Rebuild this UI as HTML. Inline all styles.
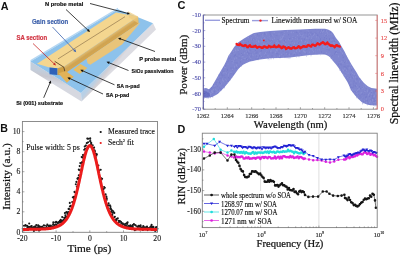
<!DOCTYPE html>
<html><head><meta charset="utf-8"><style>
html,body{margin:0;padding:0;background:#fff;}
svg{display:block;filter:blur(0.35px);}
</style></head><body>
<svg xmlns="http://www.w3.org/2000/svg" width="400" height="255" viewBox="0 0 400 255">
<rect width="400" height="255" fill="#fff"/>
<defs><linearGradient id="ff" gradientUnits="userSpaceOnUse" x1="50" y1="72" x2="48" y2="82"><stop offset="0" stop-color="#c2cedc"/><stop offset="0.5" stop-color="#c8c8d0"/><stop offset="1" stop-color="#d6d8e0"/></linearGradient><linearGradient id="rf" gradientUnits="userSpaceOnUse" x1="110" y1="62" x2="115" y2="66"><stop offset="0" stop-color="#b8d0e6"/><stop offset="0.6" stop-color="#d4d0d4"/><stop offset="1" stop-color="#dcdce2"/></linearGradient></defs>
<polygon points="30.5,61.5 81.0,93.0 81.5,101.5 30.5,70.0" fill="url(#ff)"/>
<polygon points="81.0,93.0 153.0,23.3 156.0,29.5 81.5,101.5" fill="url(#rf)"/>
<polygon points="30.5,59.9 118.0,7.7 118.0,9.3 30.5,61.5" fill="#b4d6f2"/>
<polygon points="30.5,61.5 118.0,9.3 153.0,23.3 81.0,93.0" fill="#8dc2eb"/>
<defs><linearGradient id="sg" gradientUnits="userSpaceOnUse" x1="100" y1="42.06" x2="103.53" y2="47.28"><stop offset="0" stop-color="#e2bd72"/><stop offset="0.5" stop-color="#cfa352"/><stop offset="1" stop-color="#d6a64e"/></linearGradient></defs>
<polygon points="64.0,66.4 138.0,16.4 138.5,23.6 64.5,73.7" fill="url(#sg)"/>
<polygon points="86.5,58.8 138.5,23.6 140.5,22.5 122.0,44.4 90.3,64.7 87.5,63.2" fill="#e9c479"/>
<polygon points="37.0,63.8 116.0,12.4 138.0,16.4 64.0,66.4 57.5,68.2 49.5,67.5" fill="#f4d68f"/>
<polygon points="128.0,11.2 138.0,16.4 138.5,23.6 129.0,17.5" fill="#ecc97c" opacity="0.7"/>
<polygon points="49.5,67.5 57.5,68.2 57.5,75.0 49.5,74.3" fill="#2f62b8"/>
<polygon points="57.5,68.2 64.0,66.4 64.5,75.5 57.5,75.0" fill="#cf9f45"/>
<line x1="58" y1="58.9" x2="125" y2="16.7" stroke="#8a7048" stroke-width="0.65"/>
<polyline points="54.7,61.3 63.8,67.2 65.0,72.0" stroke="#4a3418" stroke-width="0.8" fill="none"/>
<polygon points="58.5,73.3 65.6,70.9 73.8,76.8 66.8,82.7" fill="#e2b257"/>
<polygon points="73.2,69.8 80.3,63.9 87.4,68.0 79.7,73.9" fill="#e8bd62"/>
<line x1="90" y1="3.5" x2="128.5" y2="13.6" stroke="#111" stroke-width="0.8"/>
<polygon points="130.0,14.0 126.9,14.6 127.6,11.9" fill="#111"/>
<line x1="66" y1="9.5" x2="88.9" y2="31.0" stroke="#111" stroke-width="0.8"/>
<polygon points="90.0,32.0 86.9,31.0 88.8,29.0" fill="#111"/>
<line x1="52.5" y1="27" x2="75.2" y2="51.1" stroke="#3c64b0" stroke-width="0.8"/>
<polygon points="76.2,52.2 73.2,51.1 75.2,49.1" fill="#3c64b0"/>
<line x1="33" y1="43.5" x2="54.9" y2="64.5" stroke="#c82828" stroke-width="0.8"/>
<polygon points="56.0,65.5 53.0,64.5 54.9,62.5" fill="#c82828"/>
<line x1="155" y1="51.5" x2="119.4" y2="38.5" stroke="#111" stroke-width="0.8"/>
<polygon points="118.0,38.0 121.2,37.7 120.2,40.3" fill="#111"/>
<line x1="128.5" y1="70.5" x2="107.9" y2="62.3" stroke="#111" stroke-width="0.8"/>
<polygon points="106.5,61.7 109.7,61.5 108.7,64.1" fill="#111"/>
<line x1="114.5" y1="84.8" x2="81.7" y2="70.4" stroke="#111" stroke-width="0.8"/>
<polygon points="80.3,69.8 83.5,69.7 82.4,72.2" fill="#111"/>
<line x1="103" y1="94" x2="68.8" y2="78.0" stroke="#111" stroke-width="0.8"/>
<polygon points="67.4,77.4 70.6,77.4 69.4,79.9" fill="#111"/>
<line x1="43.7" y1="97.8" x2="50.4" y2="82.0" stroke="#111" stroke-width="0.8"/>
<polygon points="51.0,80.6 51.2,83.8 48.6,82.7" fill="#111"/>
<text x="0.8" y="9.5" font-family="Liberation Sans" font-weight="bold" font-size="10.8" fill="#111">A</text>
<text x="45.1" y="5.5" font-family="Liberation Sans" font-weight="bold" font-size="5.9" fill="#111" stroke="#111" stroke-width="0.18" textLength="38.2" lengthAdjust="spacingAndGlyphs">N probe metal</text>
<text x="31.9" y="23.8" font-family="Liberation Sans" font-weight="bold" font-size="6.8" fill="#3b5faa" stroke="#3b5faa" stroke-width="0.18" textLength="36.3" lengthAdjust="spacingAndGlyphs">Gain section</text>
<text x="16.4" y="39.9" font-family="Liberation Sans" font-weight="bold" font-size="6.7" fill="#d23644" stroke="#d23644" stroke-width="0.18" textLength="30.8" lengthAdjust="spacingAndGlyphs">SA section</text>
<text x="139.2" y="60.5" font-family="Liberation Sans" font-weight="bold" font-size="5.9" fill="#111" stroke="#111" stroke-width="0.18" textLength="37.1" lengthAdjust="spacingAndGlyphs">P probe metal</text>
<text x="131.6" y="72.6" font-family="Liberation Sans" font-weight="bold" font-size="5.8" fill="#111" stroke="#111" stroke-width="0.18" textLength="42" lengthAdjust="spacingAndGlyphs">SiO<tspan font-size="4.3" dy="0.6">2</tspan><tspan dy="-0.6"> passivation</tspan></text>
<text x="116.8" y="87.6" font-family="Liberation Sans" font-weight="bold" font-size="5.9" fill="#111" stroke="#111" stroke-width="0.18" textLength="22.8" lengthAdjust="spacingAndGlyphs">SA n-pad</text>
<text x="106" y="97.4" font-family="Liberation Sans" font-weight="bold" font-size="5.9" fill="#111" stroke="#111" stroke-width="0.18" textLength="23.4" lengthAdjust="spacingAndGlyphs">SA p-pad</text>
<text x="16.3" y="105.2" font-family="Liberation Sans" font-weight="bold" font-size="5.9" fill="#111" stroke="#111" stroke-width="0.18" textLength="46.9" lengthAdjust="spacingAndGlyphs">Si (001) substrate</text>
<polygon points="203.3,88.5 206.0,88.0 209.0,89.2 212.0,86.3 215.0,81.0 218.0,75.8 221.0,70.5 224.0,65.5 226.0,61.5 228.3,56.0 231.0,52.0 234.0,47.2 237.0,43.5 238.0,42.5 241.0,40.5 244.0,38.6 247.0,36.8 250.0,35.0 254.0,33.1 260.0,32.0 270.0,31.1 285.0,30.1 300.0,29.5 315.0,28.8 325.0,28.8 328.0,29.6 331.0,31.0 333.0,33.0 334.5,35.5 336.0,38.0 339.0,41.8 341.5,46.2 344.7,51.8 346.6,55.7 349.1,60.3 351.7,64.7 354.2,68.8 356.6,72.5 359.1,76.9 362.3,81.0 364.0,83.0 367.8,86.2 371.5,88.0 377.2,88.8 377.2,105.6 370.5,105.3 366.2,104.3 361.8,102.2 358.0,98.4 354.9,95.3 351.1,90.3 348.6,84.6 347.4,82.0 344.9,78.0 341.8,72.9 338.6,67.9 336.0,64.5 333.0,61.0 330.0,57.3 328.0,55.8 325.0,54.6 320.0,54.5 310.0,55.0 300.0,56.2 290.0,57.5 280.0,58.0 270.0,58.2 260.0,59.6 256.0,60.3 253.0,61.0 250.0,61.5 246.0,63.2 243.0,64.8 240.0,67.3 238.0,69.5 235.0,73.7 233.0,76.5 230.0,80.5 227.0,84.2 224.0,87.7 221.0,90.8 218.0,93.8 216.0,95.0 212.0,97.0 209.0,97.6 206.0,97.8 203.3,97.8" fill="#7f86cf"/>
<path d="M204.0 90.6v1.3M204.0 94.3v0.6M204.5 90.7v0.9M205.0 96.2v1.2M205.0 94.3v1.8M205.5 94.6v0.6M206.0 91.0v0.5M206.0 95.0v1.8M206.5 92.0v1.7M207.0 96.6v0.6M207.0 97.4v1.2M207.5 93.2v1.1M208.0 94.0v1.9M208.0 96.4v2.0M208.5 96.4v1.9M209.0 95.2v0.8M209.0 91.6v0.6M209.5 89.5v1.7M210.0 90.9v1.7M210.0 93.9v0.6M210.5 96.2v2.0M211.0 90.3v0.6M211.0 89.2v1.1M211.5 87.2v1.8M212.0 95.9v1.1M212.0 93.2v1.4M212.5 96.1v1.3M213.0 87.4v1.0M213.0 91.1v0.5M213.5 83.9v1.4M214.0 91.1v1.2M214.0 92.1v1.6M214.5 91.3v1.9M215.0 89.6v1.0M215.0 86.4v1.4M215.5 91.8v0.5M216.0 84.1v0.8M216.0 82.2v1.2M216.5 83.6v1.0M217.0 92.0v0.8M217.0 92.5v1.2M217.5 85.9v0.8M218.0 79.1v0.9M218.0 90.3v1.0M218.5 89.5v0.9M219.0 81.9v1.1M219.0 74.1v1.9M219.5 81.5v1.9M220.0 86.8v1.8M220.0 77.9v1.0M220.5 83.1v0.9M221.0 88.8v1.5M221.0 88.8v1.4M221.5 73.2v0.9M222.0 77.5v1.9M222.0 74.1v1.8M222.5 75.5v0.8M223.0 70.9v1.7M223.0 84.9v0.5M223.5 67.4v0.9M224.0 74.9v1.2M224.0 66.7v0.7M224.5 86.5v1.8M225.0 70.8v1.0M225.0 77.0v1.0M225.5 65.4v1.3M226.0 63.4v0.8M226.0 80.2v1.1M226.5 70.9v1.1M227.0 69.7v1.5M227.0 72.6v1.5M227.5 68.8v1.8M228.0 80.3v1.7M228.0 59.9v1.7M228.5 76.8v1.5M229.0 57.7v1.4M229.0 75.7v0.6M229.5 77.9v0.8M230.0 56.8v1.8M230.0 79.2v1.4M230.5 73.5v1.3M231.0 72.3v1.9M231.0 67.3v1.7M231.5 58.0v1.4M232.0 60.5v1.1M232.0 52.7v1.3M232.5 70.2v0.7M233.0 67.5v1.3M233.0 73.7v0.7M233.5 73.5v1.3M234.0 52.4v0.9M234.0 56.0v0.8M234.5 54.8v1.6M235.0 62.2v0.9M235.0 59.3v1.1M235.5 54.3v1.7M236.0 58.0v1.4M236.0 67.4v1.3M236.5 67.7v1.1M237.0 56.3v0.8M237.0 62.0v1.9M237.5 48.2v0.9M238.0 65.7v1.8M238.0 51.0v1.1M238.5 44.6v1.8M239.0 57.2v1.5M239.0 53.4v1.2M239.5 66.7v1.1M240.0 48.3v1.5M240.0 64.9v0.6M240.5 61.0v1.6M241.0 57.5v1.7M241.0 65.5v1.5M241.5 53.0v1.0M242.0 54.5v0.8M242.0 44.5v1.8M242.5 63.5v0.7M243.0 54.5v1.3M243.0 47.2v0.8M243.5 58.2v1.3M244.0 45.4v1.1M244.0 51.6v0.9M244.5 46.9v1.1M245.0 47.1v1.8M245.0 40.6v0.7M245.5 42.5v0.8M246.0 58.4v1.6M246.0 47.7v0.8M246.5 42.3v0.9M247.0 57.7v1.8M247.0 51.2v1.4M247.5 54.4v0.9M248.0 51.9v1.6M248.0 53.5v1.2M248.5 41.0v1.3M249.0 52.6v1.2M249.0 59.1v0.7M249.5 36.6v1.0M250.0 49.3v1.9M250.0 53.4v0.7M250.5 59.5v1.6M251.0 56.2v1.9M251.0 54.8v1.2M251.5 36.4v0.8M252.0 53.0v1.3M252.0 42.3v1.2M252.5 38.7v1.8M253.0 43.7v1.3M253.0 33.6v0.8M253.5 46.0v0.8M254.0 44.3v0.8M254.0 37.8v1.2M254.5 45.4v1.1M255.0 44.1v1.1M255.0 39.0v0.6M255.5 50.0v1.0M256.0 52.8v0.9M256.0 58.5v1.0M256.5 55.1v1.4M257.0 51.4v2.0M257.0 33.4v0.6M257.5 33.9v1.5M258.0 59.2v1.2M258.0 58.3v0.6M258.5 58.4v0.6M259.0 35.3v1.1M259.0 57.8v0.8M259.5 55.2v1.3M260.0 43.4v0.8M260.0 39.4v0.8M260.5 51.6v1.1M261.0 51.5v0.5M261.0 50.6v0.6M261.5 49.5v1.8M262.0 56.5v1.6M262.0 33.8v1.1M262.5 47.4v0.7M263.0 38.3v0.6M263.0 47.8v0.5M263.5 37.7v1.3M264.0 48.2v1.7M264.0 36.5v0.6M264.5 32.3v1.9M265.0 33.9v1.2M265.0 48.4v1.5M265.5 41.0v1.4M266.0 54.3v1.4M266.0 46.2v1.2M266.5 40.9v1.2M267.0 51.4v1.1M267.0 37.2v1.0M267.5 43.1v0.6M268.0 56.6v1.6M268.0 47.9v1.9M268.5 57.0v1.9M269.0 52.2v1.1M269.0 39.1v1.9M269.5 50.7v0.9M270.0 32.2v1.6M270.0 40.4v1.6M270.5 33.9v0.9M271.0 35.2v1.6M271.0 57.6v1.8M271.5 39.5v1.2M272.0 40.7v1.8M272.0 55.1v1.7M272.5 52.9v0.5M273.0 45.5v0.7M273.0 51.9v1.2M273.5 57.6v0.6M274.0 42.6v1.0M274.0 33.4v1.0M274.5 42.2v0.9M275.0 47.9v1.5M275.0 37.5v0.7M275.5 44.7v1.7M276.0 35.3v0.5M276.0 55.5v1.2M276.5 53.0v1.4M277.0 35.3v0.8M277.0 45.6v1.1M277.5 52.6v1.2M278.0 39.2v1.3M278.0 53.3v1.9M278.5 46.3v1.3M279.0 50.0v1.9M279.0 40.7v1.3M279.5 48.2v0.8M280.0 41.0v1.7M280.0 56.6v1.9M280.5 38.2v0.7M281.0 32.6v0.8M281.0 44.9v1.6M281.5 52.9v0.5M282.0 32.2v0.9M282.0 45.4v0.6M282.5 34.2v1.9M283.0 48.9v1.5M283.0 51.2v0.8M283.5 54.4v0.6M284.0 40.7v0.7M284.0 37.9v0.7M284.5 39.9v1.9M285.0 56.1v2.0M285.0 39.9v1.9M285.5 38.7v0.5M286.0 51.7v1.4M286.0 42.3v1.3M286.5 46.5v1.9M287.0 56.6v1.8M287.0 35.6v0.6M287.5 54.1v0.7M288.0 51.9v2.0M288.0 51.1v0.6M288.5 34.0v1.4M289.0 40.3v1.0M289.0 57.0v1.9M289.5 37.8v2.0M290.0 43.7v1.6M290.0 37.7v2.0M290.5 44.5v1.8M291.0 42.0v1.4M291.0 53.2v1.7M291.5 40.4v2.0M292.0 44.9v1.8M292.0 49.3v1.0M292.5 40.7v1.1M293.0 45.8v0.7M293.0 46.6v0.7M293.5 37.5v0.5M294.0 44.3v1.6M294.0 54.6v1.2M294.5 53.7v1.1M295.0 37.5v0.8M295.0 32.0v0.5M295.5 52.2v0.8M296.0 43.5v1.1M296.0 41.5v0.6M296.5 31.9v1.2M297.0 31.4v0.5M297.0 53.7v1.7M297.5 45.3v1.8M298.0 32.0v1.5M298.0 43.7v1.4M298.5 42.1v1.8M299.0 55.8v1.5M299.0 37.5v1.8M299.5 46.1v1.0M300.0 52.4v1.6M300.0 41.1v1.0M300.5 35.2v1.7M301.0 53.8v1.1M301.0 30.5v1.2M301.5 51.6v0.6M302.0 34.1v0.9M302.0 38.4v0.7M302.5 44.4v0.9M303.0 47.1v1.4M303.0 39.8v1.3M303.5 41.0v0.6M304.0 42.3v1.4M304.0 47.4v0.8M304.5 38.4v2.0M305.0 48.1v1.0M305.0 32.1v1.3M305.5 43.4v1.8M306.0 44.5v1.7M306.0 49.2v1.3M306.5 52.4v1.3M307.0 48.8v0.9M307.0 48.4v1.0M307.5 35.7v1.5M308.0 32.0v1.3M308.0 33.6v1.1M308.5 44.1v0.7M309.0 34.3v1.3M309.0 43.1v1.9M309.5 39.4v0.6M310.0 53.5v0.7M310.0 40.3v0.9M310.5 43.8v1.3M311.0 54.6v1.7M311.0 31.5v1.6M311.5 40.8v2.0M312.0 33.2v1.5M312.0 38.6v1.8M312.5 46.8v1.1M313.0 43.0v1.4M313.0 33.3v1.5M313.5 42.0v1.9M314.0 38.5v0.6M314.0 52.8v0.8M314.5 48.0v1.2M315.0 42.9v1.5M315.0 32.3v1.4M315.5 29.0v0.6M316.0 40.6v2.0M316.0 47.0v0.5M316.5 33.2v0.5M317.0 53.9v0.7M317.0 49.6v1.2M317.5 34.6v1.2M318.0 34.7v1.1M318.0 43.6v1.3M318.5 29.4v0.5M319.0 43.5v0.9M319.0 45.9v1.6M319.5 36.7v0.6M320.0 31.4v1.9M320.0 40.1v0.7M320.5 38.2v2.0M321.0 41.1v0.9M321.0 29.1v1.2M321.5 51.2v1.9M322.0 36.6v1.2M322.0 32.2v1.4M322.5 29.9v1.9M323.0 48.0v1.3M323.0 45.0v0.6M323.5 53.6v0.5M324.0 52.7v1.1M324.0 38.9v1.2M324.5 36.7v1.6M325.0 35.4v1.0M325.0 53.5v1.2M325.5 30.4v0.9M326.0 35.3v0.8M326.0 42.1v0.9M326.5 38.0v1.1M327.0 48.9v1.0M327.0 35.1v0.8M327.5 46.2v1.6M328.0 42.1v1.1M328.0 34.8v1.1M328.5 53.9v0.8M329.0 48.9v2.0M329.0 53.9v0.7M329.5 38.1v1.8M330.0 34.4v0.8M330.0 39.0v1.2M330.5 31.3v1.9M331.0 57.9v0.9M331.0 37.7v0.8M331.5 56.4v1.0M332.0 47.1v1.3M332.0 40.3v1.8M332.5 55.4v0.6M333.0 37.3v2.0M333.0 48.6v0.7M333.5 58.9v0.9M334.0 40.2v1.9M334.0 37.6v1.8M334.5 53.3v1.4M335.0 51.9v0.5M335.0 40.9v1.0M335.5 51.7v1.1M336.0 50.9v1.7M336.0 50.8v0.7M336.5 51.3v1.1M337.0 49.2v1.0M337.0 53.7v1.2M337.5 52.4v1.6M338.0 43.6v1.8M338.0 47.5v0.6M338.5 63.7v1.8M339.0 51.9v0.7M339.0 61.7v1.7M339.5 66.0v1.3M340.0 46.0v0.6M340.0 61.1v0.5M340.5 45.4v1.3M341.0 63.9v1.6M341.0 63.7v0.5M341.5 71.6v0.8M342.0 69.2v1.2M342.0 50.6v1.6M342.5 55.3v0.9M343.0 60.2v1.1M343.0 57.1v1.0M343.5 57.4v0.6M344.0 66.0v1.1M344.0 56.2v0.7M344.5 60.9v1.9M345.0 69.4v1.4M345.0 65.9v1.2M345.5 73.5v0.9M346.0 66.7v1.2M346.0 61.1v0.7M346.5 55.5v0.8M347.0 67.8v1.3M347.0 76.7v1.5M347.5 69.5v0.6M348.0 65.6v1.4M348.0 79.8v1.3M348.5 73.1v1.0M349.0 60.3v0.6M349.0 81.7v1.4M349.5 77.3v0.6M350.0 87.7v0.7M350.0 84.2v1.7M350.5 73.9v1.6M351.0 85.9v1.9M351.0 89.4v0.9M351.5 69.1v1.7M352.0 75.6v1.8M352.0 87.4v0.6M352.5 77.2v1.5M353.0 90.9v1.5M353.0 86.3v1.7M353.5 83.5v0.8M354.0 85.1v1.2M354.0 80.6v1.9M354.5 91.5v1.8M355.0 91.2v2.0M355.0 75.3v1.5M355.5 85.2v1.7M356.0 94.0v1.5M356.0 82.4v1.5M356.5 96.4v1.8M357.0 77.9v1.6M357.0 78.4v1.6M357.5 88.1v1.2M358.0 98.0v0.7M358.0 90.4v1.4M358.5 94.1v1.4M359.0 90.8v0.7M359.0 97.8v1.7M359.5 86.1v1.3M360.0 95.1v1.6M360.0 78.3v1.3M360.5 88.1v1.8M361.0 97.3v1.0M361.0 81.0v2.0M361.5 96.9v0.7M362.0 93.4v1.0M362.0 93.2v1.4M362.5 102.4v2.0M363.0 86.5v1.7M363.0 97.9v0.8M363.5 100.9v1.7M364.0 91.4v0.8M364.0 94.4v1.0M364.5 92.3v0.6M365.0 93.8v0.7M365.0 89.4v1.8M365.5 96.5v1.7M366.0 88.0v1.4M366.0 100.0v1.8M366.5 95.8v1.8M367.0 93.6v0.5M367.0 94.3v0.7M367.5 99.8v1.8M368.0 103.9v0.9M368.0 102.7v1.7M368.5 88.6v0.9M369.0 88.4v1.9M369.0 91.1v1.7M369.5 95.5v1.5M370.0 89.2v1.8M370.0 104.1v1.0M370.5 88.0v0.9M371.0 98.8v1.8M371.0 94.5v0.9M371.5 91.5v1.6M372.0 97.5v1.4M372.0 100.0v0.8M372.5 94.9v1.9M373.0 97.3v1.6M373.0 97.1v1.4M373.5 103.9v1.7M374.0 100.4v1.4M374.0 91.3v2.0M374.5 98.5v1.1M375.0 105.2v1.3M375.0 100.6v1.4M375.5 89.9v2.0M376.0 96.5v0.6M376.0 100.7v1.8M376.5 95.1v1.2" stroke="#6a70c4" stroke-width="0.6" opacity="0.6"/>
<path d="M204.0 91.9v1.4M204.5 88.4v1.8M204.5 97.8v1.2M205.0 94.3v0.7M205.5 93.2v1.6M205.5 95.5v1.4M206.0 96.5v1.2M206.5 95.0v1.9M206.5 92.5v1.9M207.0 89.7v0.8M207.5 94.3v1.0M207.5 91.8v1.4M208.0 94.8v1.9M208.5 94.8v0.7M208.5 96.8v1.4M209.0 96.2v1.4M209.5 96.2v2.0M209.5 92.3v0.7M210.0 96.2v0.6M210.5 94.6v1.0M210.5 92.6v2.0M211.0 93.2v0.5M211.5 93.1v0.7M211.5 90.0v1.9M212.0 91.2v1.3M212.5 91.8v1.4M212.5 90.3v1.6M213.0 96.2v1.3M213.5 88.9v1.4M213.5 91.6v0.6M214.0 91.8v1.0M214.5 82.2v0.6M214.5 85.4v1.2M215.0 86.3v1.0M215.5 84.7v1.1M215.5 88.7v1.6M216.0 91.9v0.9M216.5 89.8v0.7M216.5 92.0v1.2M217.0 83.2v1.5M217.5 80.6v0.7M217.5 90.7v1.8M218.0 90.3v1.5M218.5 77.3v0.9M218.5 81.3v1.1M219.0 91.3v0.7M219.5 90.0v2.0M219.5 90.9v0.8M220.0 85.2v1.3M220.5 75.9v0.6M220.5 87.5v0.6M221.0 89.3v1.8M221.5 69.9v1.6M221.5 83.3v1.3M222.0 81.6v1.0M222.5 78.1v1.7M222.5 79.4v1.7M223.0 87.0v1.7M223.5 80.1v1.8M223.5 72.2v1.3M224.0 82.7v0.5M224.5 67.3v0.6M224.5 66.4v1.3M225.0 71.6v1.5M225.5 67.0v1.0M225.5 79.3v1.1M226.0 70.4v1.4M226.5 79.9v1.4M226.5 72.4v1.6M227.0 70.7v0.9M227.5 59.8v1.1M227.5 82.0v1.1M228.0 63.6v1.2M228.5 73.4v1.8M228.5 75.3v1.3M229.0 55.1v0.7M229.5 56.7v0.6M229.5 54.9v1.8M230.0 71.7v1.8M230.5 74.4v0.6M230.5 72.1v0.7M231.0 53.7v1.0M231.5 57.8v0.8M231.5 71.8v1.1M232.0 60.0v1.1M232.5 76.4v1.1M232.5 68.6v1.6M233.0 62.2v1.5M233.5 50.7v1.6M233.5 60.3v1.6M234.0 52.8v1.4M234.5 65.8v1.9M234.5 58.1v1.8M235.0 52.0v0.5M235.5 50.1v1.0M235.5 49.3v2.0M236.0 57.6v1.8M236.5 57.3v1.6M236.5 64.3v1.9M237.0 49.9v1.6M237.5 66.2v0.9M237.5 48.1v1.6M238.0 49.4v1.8M238.5 61.7v0.6M238.5 50.0v1.0M239.0 42.0v1.0M239.5 47.0v1.4M239.5 55.8v0.7M240.0 44.1v1.8M240.5 65.4v1.1M240.5 48.5v1.5M241.0 47.4v1.6M241.5 54.1v0.7M241.5 58.8v1.5M242.0 56.5v1.4M242.5 56.4v0.7M242.5 48.1v1.6M243.0 55.8v1.2M243.5 40.7v1.6M243.5 57.9v1.0M244.0 61.0v0.6M244.5 58.1v1.0M244.5 52.2v1.7M245.0 40.9v0.9M245.5 57.8v1.6M245.5 48.4v1.6M246.0 52.7v0.7M246.5 50.8v1.4M246.5 57.3v0.5M247.0 61.5v1.1M247.5 53.0v2.0M247.5 58.9v1.2M248.0 36.3v1.7M248.5 49.6v1.2M248.5 36.9v1.3M249.0 50.5v1.9M249.5 56.2v1.4M249.5 41.5v0.6M250.0 43.6v1.8M250.5 57.6v1.4M250.5 54.5v1.0M251.0 57.6v1.2M251.5 37.2v0.6M251.5 38.6v1.2M252.0 45.5v1.5M252.5 54.5v1.1M252.5 53.4v1.1M253.0 49.9v0.8M253.5 54.9v0.7M253.5 39.1v0.8M254.0 33.9v0.7M254.5 34.7v0.5M254.5 52.5v0.6M255.0 33.7v1.9M255.5 45.9v0.7M255.5 36.2v0.6M256.0 54.5v1.2M256.5 39.5v0.9M256.5 42.1v0.6M257.0 48.9v0.5M257.5 37.2v0.6M257.5 57.3v0.8M258.0 54.5v1.9M258.5 40.7v1.4M258.5 40.4v1.8M259.0 41.4v1.5M259.5 52.5v1.6M259.5 57.6v1.0M260.0 53.5v1.2M260.5 51.8v1.4M260.5 45.4v0.7M261.0 44.8v1.6M261.5 38.4v1.8M261.5 55.9v1.2M262.0 41.0v1.1M262.5 58.0v0.7M262.5 34.0v1.5M263.0 35.9v1.5M263.5 38.0v2.0M263.5 43.2v1.7M264.0 46.3v0.8M264.5 54.2v0.7M264.5 37.0v1.8M265.0 37.6v1.7M265.5 52.3v1.8M265.5 43.7v0.7M266.0 53.7v0.8M266.5 51.3v0.6M266.5 33.4v1.3M267.0 49.0v1.4M267.5 58.4v1.0M267.5 37.3v0.7M268.0 55.1v2.0M268.5 45.8v1.1M268.5 57.0v1.2M269.0 58.3v1.9M269.5 36.2v0.6M269.5 45.2v1.5M270.0 38.6v1.1M270.5 51.3v0.9M270.5 42.2v0.6M271.0 50.0v2.0M271.5 41.1v0.7M271.5 45.3v1.3M272.0 38.7v1.2M272.5 39.0v0.9M272.5 34.5v1.3M273.0 32.3v0.8M273.5 57.6v1.7M273.5 35.9v0.5M274.0 32.2v1.3M274.5 37.6v1.7M274.5 32.0v1.1M275.0 55.7v1.7M275.5 51.5v1.7M275.5 45.8v0.9M276.0 48.3v1.8M276.5 48.9v1.9M276.5 42.0v1.3M277.0 49.4v2.0M277.5 40.3v1.2M277.5 56.9v0.7M278.0 41.9v1.8M278.5 47.4v0.5M278.5 43.9v0.9M279.0 33.3v1.5M279.5 55.1v1.9M279.5 55.8v0.8M280.0 39.1v0.9M280.5 39.2v1.1M280.5 37.3v2.0M281.0 35.9v0.6M281.5 53.5v1.4M281.5 38.1v1.9M282.0 43.6v0.9M282.5 36.8v1.9M282.5 35.2v2.0M283.0 34.2v0.6M283.5 35.4v1.7M283.5 56.7v1.3M284.0 40.9v2.0M284.5 34.1v0.7M284.5 32.3v0.8M285.0 57.2v0.9M285.5 43.5v1.6M285.5 39.6v1.6M286.0 42.9v1.3M286.5 53.1v0.8M286.5 53.5v0.8M287.0 34.7v0.9M287.5 57.0v1.1M287.5 30.4v1.8M288.0 48.9v1.3M288.5 44.9v1.2M288.5 38.9v1.3M289.0 39.8v1.4M289.5 53.7v1.8M289.5 37.4v0.7M290.0 39.3v1.5M290.5 42.4v1.2M290.5 57.1v1.3M291.0 31.8v1.1M291.5 31.5v1.8M291.5 39.9v0.8M292.0 41.6v1.8M292.5 38.0v1.3M292.5 47.6v1.8M293.0 35.8v1.1M293.5 32.0v1.0M293.5 44.5v1.9M294.0 52.3v1.8M294.5 48.3v0.7M294.5 42.6v1.8M295.0 52.1v1.4M295.5 39.2v0.5M295.5 37.1v1.1M296.0 46.7v1.5M296.5 56.1v1.5M296.5 50.0v2.0M297.0 42.6v1.1M297.5 38.5v1.1M297.5 35.0v1.1M298.0 30.3v1.9M298.5 31.8v0.8M298.5 44.0v0.9M299.0 43.7v0.8M299.5 33.1v1.3M299.5 50.1v1.9M300.0 34.9v0.6M300.5 34.6v1.8M300.5 54.5v0.7M301.0 35.1v0.8M301.5 39.6v1.8M301.5 40.1v1.1M302.0 36.4v1.5M302.5 35.2v1.2M302.5 47.9v0.8M303.0 34.0v1.6M303.5 45.1v1.4M303.5 50.1v1.8M304.0 36.4v1.8M304.5 50.8v2.0M304.5 42.0v0.8M305.0 48.6v1.4M305.5 51.6v1.2M305.5 41.0v1.2M306.0 34.6v0.6M306.5 37.1v1.8M306.5 55.1v1.8M307.0 29.5v1.5M307.5 41.7v1.4M307.5 43.9v1.1M308.0 37.5v1.6M308.5 34.2v1.1M308.5 30.5v1.2M309.0 33.4v0.7M309.5 51.6v1.3M309.5 36.2v1.0M310.0 53.6v1.2M310.5 54.0v0.8M310.5 34.2v0.8M311.0 48.0v1.9M311.5 48.4v0.8M311.5 37.4v1.6M312.0 35.9v1.3M312.5 48.3v1.3M312.5 49.8v0.9M313.0 39.0v0.6M313.5 34.4v1.6M313.5 50.9v1.6M314.0 43.3v1.6M314.5 32.9v2.0M314.5 48.0v0.7M315.0 44.5v0.7M315.5 51.7v0.7M315.5 49.2v1.1M316.0 44.6v0.9M316.5 36.1v1.5M316.5 42.2v1.0M317.0 49.5v1.1M317.5 46.0v1.0M317.5 49.5v1.0M318.0 31.3v1.0M318.5 44.2v0.9M318.5 37.5v0.8M319.0 48.4v1.4M319.5 42.2v1.1M319.5 49.2v1.3M320.0 43.8v1.4M320.5 54.5v0.8M320.5 31.9v1.2M321.0 52.6v1.1M321.5 28.9v1.6M321.5 30.0v1.5M322.0 36.5v1.0M322.5 31.1v1.9M322.5 33.7v0.6M323.0 48.6v1.3M323.5 46.2v1.3M323.5 30.6v1.5M324.0 47.1v1.3M324.5 44.3v0.5M324.5 35.5v1.2M325.0 45.6v1.6M325.5 34.2v1.0M325.5 44.1v1.4M326.0 31.6v0.8M326.5 52.2v1.3M326.5 30.2v1.6M327.0 48.2v0.9M327.5 34.6v1.4M327.5 32.2v1.6M328.0 42.8v1.1M328.5 46.9v1.6M328.5 53.3v1.7M329.0 33.7v1.7M329.5 46.1v1.9M329.5 54.4v1.2M330.0 52.7v1.1M330.5 56.0v0.9M330.5 39.4v1.1M331.0 33.4v1.8M331.5 57.4v0.8M331.5 39.9v0.8M332.0 43.1v1.3M332.5 58.5v1.6M332.5 39.5v0.8M333.0 58.3v1.9M333.5 45.7v0.6M333.5 41.8v1.9M334.0 43.2v1.5M334.5 46.4v1.0M334.5 42.3v0.7M335.0 59.9v1.0M335.5 40.2v1.0M335.5 46.1v0.9M336.0 49.6v1.7M336.5 43.1v1.8M336.5 52.3v1.8M337.0 49.0v0.5M337.5 53.1v1.2M337.5 44.8v2.0M338.0 45.2v1.7M338.5 55.6v1.8M338.5 67.2v0.6M339.0 62.0v1.2M339.5 69.3v1.5M339.5 44.8v1.8M340.0 65.6v0.9M340.5 50.0v1.6M340.5 69.2v0.8M341.0 61.6v1.6M341.5 51.2v1.3M341.5 61.6v0.7M342.0 60.7v1.5M342.5 68.8v1.8M342.5 52.3v1.8M343.0 62.4v1.5M343.5 69.6v1.7M343.5 73.8v1.6M344.0 75.5v1.1M344.5 60.5v1.4M344.5 68.3v1.2M345.0 68.3v1.2M345.5 74.7v0.8M345.5 75.1v0.6M346.0 72.5v0.8M346.5 69.6v1.4M346.5 60.5v1.9M347.0 63.7v1.5M347.5 57.4v1.2M347.5 77.0v1.0M348.0 72.9v1.2M348.5 67.8v0.6M348.5 72.7v1.0M349.0 64.1v0.6M349.5 67.1v1.6M349.5 80.3v0.8M350.0 69.2v0.9M350.5 77.9v0.7M350.5 64.2v1.9M351.0 82.1v1.4M351.5 72.4v0.7M351.5 66.9v1.6M352.0 85.2v1.5M352.5 72.9v1.1M352.5 89.0v1.6M353.0 76.1v1.3M353.5 77.2v1.0M353.5 90.4v0.5M354.0 73.5v1.4M354.5 91.8v1.4M354.5 73.5v1.7M355.0 89.3v1.1M355.5 76.1v1.6M355.5 79.8v1.0M356.0 81.0v1.3M356.5 85.0v0.9M356.5 91.0v0.9M357.0 93.1v1.5M357.5 86.5v1.1M357.5 89.5v1.6M358.0 88.3v1.9M358.5 95.5v0.5M358.5 89.3v1.0M359.0 88.6v0.9M359.5 88.0v1.6M359.5 81.0v1.8M360.0 79.9v1.7M360.5 89.5v0.6M360.5 92.6v1.0M361.0 99.1v1.1M361.5 81.5v0.9M361.5 91.9v1.8M362.0 97.0v1.7M362.5 88.1v1.1M362.5 81.3v0.8M363.0 86.0v0.8M363.5 102.5v1.2M363.5 86.7v1.7M364.0 83.9v1.6M364.5 100.1v0.8M364.5 90.5v1.8M365.0 88.5v1.5M365.5 85.5v1.8M365.5 91.2v0.6M366.0 85.2v0.7M366.5 101.6v1.8M366.5 98.5v1.3M367.0 87.2v0.9M367.5 104.1v1.4M367.5 90.2v1.8M368.0 88.6v1.7M368.5 94.0v1.4M368.5 94.2v1.6M369.0 87.3v2.0M369.5 101.8v1.9M369.5 92.3v1.7M370.0 97.9v0.6M370.5 88.7v0.9M370.5 100.1v2.0M371.0 102.2v1.6M371.5 90.7v1.3M371.5 93.6v1.4M372.0 90.8v0.9M372.5 99.7v1.9M372.5 98.7v1.9M373.0 100.0v0.8M373.5 96.2v1.5M373.5 102.2v0.7M374.0 104.4v0.5M374.5 94.8v1.6M374.5 95.9v1.3M375.0 101.9v1.0M375.5 101.2v1.8M375.5 98.9v0.9M376.0 92.5v1.8M376.5 91.4v0.7M376.5 100.7v0.9" stroke="#98a0dc" stroke-width="0.6" opacity="0.6"/>
<polygon points="203.3,91.0 206.5,91.5 209.5,93.0 210.0,96.5 206.0,97.3 203.3,97.2" fill="#4a50b4" opacity="0.45"/>
<polyline points="236.5,43.9 237.4,44.8 238.3,44.9 239.2,45.1 240.1,43.9 241.0,44.8 241.9,45.4 242.8,45.8 243.7,46.0 244.6,45.4 245.5,45.4 246.4,45.8 247.3,47.2 248.2,47.1 249.1,45.9 250.0,45.3 250.9,46.6 251.8,46.9 252.7,46.9 253.6,46.5 254.5,46.4 255.4,45.9 256.3,46.9 257.2,47.8 258.1,47.2 259.0,46.8 259.9,46.8 260.8,47.2 261.7,47.9 262.6,47.9 263.5,46.8 264.4,46.5 265.3,46.7 266.2,47.4 267.1,47.6 268.0,47.3 268.9,45.9 269.8,46.3 270.7,47.2 271.6,46.9 272.5,46.9 273.4,46.9 274.3,45.6 275.2,46.8 276.1,47.3 277.0,46.9 277.9,46.8 278.8,45.6 279.7,46.5 280.6,46.9 281.5,48.2 282.4,47.9 283.3,46.6 284.2,46.9 285.1,47.4 286.0,48.9 286.9,48.4 287.8,47.8 288.7,47.3 289.6,48.3 290.5,48.4 291.4,48.6 292.3,48.1 293.2,47.4 294.1,47.2 295.0,48.3 295.9,48.2 296.8,47.9 297.7,47.4 298.6,46.4 299.5,46.8 300.4,48.1 301.3,47.4 302.2,47.2 303.1,46.4 304.0,46.1 304.9,46.7 305.8,46.7 306.7,46.8 307.6,45.5 308.5,45.2 309.4,45.6 310.3,46.2 311.2,46.5 312.1,44.8 313.0,44.7 313.9,45.1 314.8,45.7 315.7,45.5 316.6,44.5 317.5,43.4 318.4,43.9 319.3,44.5 320.2,44.3 321.1,43.3 322.0,42.9 322.9,42.2 323.8,42.9 324.7,44.1 325.6,44.3 326.5,43.4 327.4,42.6 328.3,44.1 329.2,44.5 330.1,45.4 331.0,45.9 331.9,45.4 332.8,45.9 333.7,46.0 334.6,47.2 335.5,46.3 336.4,45.1 337.3,45.5 338.2,46.2 339.1,46.2 340.0,46.8" stroke="#f02828" stroke-width="2.2" fill="none" opacity="0.9"/>
<circle cx="236.5" cy="43.9" r="1.05" fill="#f41c1c"/>
<circle cx="237.4" cy="44.8" r="1.05" fill="#f41c1c"/>
<circle cx="238.3" cy="44.9" r="1.05" fill="#f41c1c"/>
<circle cx="239.2" cy="45.1" r="1.05" fill="#f41c1c"/>
<circle cx="240.1" cy="43.9" r="1.05" fill="#f41c1c"/>
<circle cx="241.0" cy="44.8" r="1.05" fill="#f41c1c"/>
<circle cx="241.9" cy="45.4" r="1.05" fill="#f41c1c"/>
<circle cx="242.8" cy="45.8" r="1.05" fill="#f41c1c"/>
<circle cx="243.7" cy="46.0" r="1.05" fill="#f41c1c"/>
<circle cx="244.6" cy="45.4" r="1.05" fill="#f41c1c"/>
<circle cx="245.5" cy="45.4" r="1.05" fill="#f41c1c"/>
<circle cx="246.4" cy="45.8" r="1.05" fill="#f41c1c"/>
<circle cx="247.3" cy="47.2" r="1.05" fill="#f41c1c"/>
<circle cx="248.2" cy="47.1" r="1.05" fill="#f41c1c"/>
<circle cx="249.1" cy="45.9" r="1.05" fill="#f41c1c"/>
<circle cx="250.0" cy="45.3" r="1.05" fill="#f41c1c"/>
<circle cx="250.9" cy="46.6" r="1.05" fill="#f41c1c"/>
<circle cx="251.8" cy="46.9" r="1.05" fill="#f41c1c"/>
<circle cx="252.7" cy="46.9" r="1.05" fill="#f41c1c"/>
<circle cx="253.6" cy="46.5" r="1.05" fill="#f41c1c"/>
<circle cx="254.5" cy="46.4" r="1.05" fill="#f41c1c"/>
<circle cx="255.4" cy="45.9" r="1.05" fill="#f41c1c"/>
<circle cx="256.3" cy="46.9" r="1.05" fill="#f41c1c"/>
<circle cx="257.2" cy="47.8" r="1.05" fill="#f41c1c"/>
<circle cx="258.1" cy="47.2" r="1.05" fill="#f41c1c"/>
<circle cx="259.0" cy="46.8" r="1.05" fill="#f41c1c"/>
<circle cx="259.9" cy="46.8" r="1.05" fill="#f41c1c"/>
<circle cx="260.8" cy="47.2" r="1.05" fill="#f41c1c"/>
<circle cx="261.7" cy="47.9" r="1.05" fill="#f41c1c"/>
<circle cx="262.6" cy="47.9" r="1.05" fill="#f41c1c"/>
<circle cx="263.5" cy="46.8" r="1.05" fill="#f41c1c"/>
<circle cx="264.4" cy="46.5" r="1.05" fill="#f41c1c"/>
<circle cx="265.3" cy="46.7" r="1.05" fill="#f41c1c"/>
<circle cx="266.2" cy="47.4" r="1.05" fill="#f41c1c"/>
<circle cx="267.1" cy="47.6" r="1.05" fill="#f41c1c"/>
<circle cx="268.0" cy="47.3" r="1.05" fill="#f41c1c"/>
<circle cx="268.9" cy="45.9" r="1.05" fill="#f41c1c"/>
<circle cx="269.8" cy="46.3" r="1.05" fill="#f41c1c"/>
<circle cx="270.7" cy="47.2" r="1.05" fill="#f41c1c"/>
<circle cx="271.6" cy="46.9" r="1.05" fill="#f41c1c"/>
<circle cx="272.5" cy="46.9" r="1.05" fill="#f41c1c"/>
<circle cx="273.4" cy="46.9" r="1.05" fill="#f41c1c"/>
<circle cx="274.3" cy="45.6" r="1.05" fill="#f41c1c"/>
<circle cx="275.2" cy="46.8" r="1.05" fill="#f41c1c"/>
<circle cx="276.1" cy="47.3" r="1.05" fill="#f41c1c"/>
<circle cx="277.0" cy="46.9" r="1.05" fill="#f41c1c"/>
<circle cx="277.9" cy="46.8" r="1.05" fill="#f41c1c"/>
<circle cx="278.8" cy="45.6" r="1.05" fill="#f41c1c"/>
<circle cx="279.7" cy="46.5" r="1.05" fill="#f41c1c"/>
<circle cx="280.6" cy="46.9" r="1.05" fill="#f41c1c"/>
<circle cx="281.5" cy="48.2" r="1.05" fill="#f41c1c"/>
<circle cx="282.4" cy="47.9" r="1.05" fill="#f41c1c"/>
<circle cx="283.3" cy="46.6" r="1.05" fill="#f41c1c"/>
<circle cx="284.2" cy="46.9" r="1.05" fill="#f41c1c"/>
<circle cx="285.1" cy="47.4" r="1.05" fill="#f41c1c"/>
<circle cx="286.0" cy="48.9" r="1.05" fill="#f41c1c"/>
<circle cx="286.9" cy="48.4" r="1.05" fill="#f41c1c"/>
<circle cx="287.8" cy="47.8" r="1.05" fill="#f41c1c"/>
<circle cx="288.7" cy="47.3" r="1.05" fill="#f41c1c"/>
<circle cx="289.6" cy="48.3" r="1.05" fill="#f41c1c"/>
<circle cx="290.5" cy="48.4" r="1.05" fill="#f41c1c"/>
<circle cx="291.4" cy="48.6" r="1.05" fill="#f41c1c"/>
<circle cx="292.3" cy="48.1" r="1.05" fill="#f41c1c"/>
<circle cx="293.2" cy="47.4" r="1.05" fill="#f41c1c"/>
<circle cx="294.1" cy="47.2" r="1.05" fill="#f41c1c"/>
<circle cx="295.0" cy="48.3" r="1.05" fill="#f41c1c"/>
<circle cx="295.9" cy="48.2" r="1.05" fill="#f41c1c"/>
<circle cx="296.8" cy="47.9" r="1.05" fill="#f41c1c"/>
<circle cx="297.7" cy="47.4" r="1.05" fill="#f41c1c"/>
<circle cx="298.6" cy="46.4" r="1.05" fill="#f41c1c"/>
<circle cx="299.5" cy="46.8" r="1.05" fill="#f41c1c"/>
<circle cx="300.4" cy="48.1" r="1.05" fill="#f41c1c"/>
<circle cx="301.3" cy="47.4" r="1.05" fill="#f41c1c"/>
<circle cx="302.2" cy="47.2" r="1.05" fill="#f41c1c"/>
<circle cx="303.1" cy="46.4" r="1.05" fill="#f41c1c"/>
<circle cx="304.0" cy="46.1" r="1.05" fill="#f41c1c"/>
<circle cx="304.9" cy="46.7" r="1.05" fill="#f41c1c"/>
<circle cx="305.8" cy="46.7" r="1.05" fill="#f41c1c"/>
<circle cx="306.7" cy="46.8" r="1.05" fill="#f41c1c"/>
<circle cx="307.6" cy="45.5" r="1.05" fill="#f41c1c"/>
<circle cx="308.5" cy="45.2" r="1.05" fill="#f41c1c"/>
<circle cx="309.4" cy="45.6" r="1.05" fill="#f41c1c"/>
<circle cx="310.3" cy="46.2" r="1.05" fill="#f41c1c"/>
<circle cx="311.2" cy="46.5" r="1.05" fill="#f41c1c"/>
<circle cx="312.1" cy="44.8" r="1.05" fill="#f41c1c"/>
<circle cx="313.0" cy="44.7" r="1.05" fill="#f41c1c"/>
<circle cx="313.9" cy="45.1" r="1.05" fill="#f41c1c"/>
<circle cx="314.8" cy="45.7" r="1.05" fill="#f41c1c"/>
<circle cx="315.7" cy="45.5" r="1.05" fill="#f41c1c"/>
<circle cx="316.6" cy="44.5" r="1.05" fill="#f41c1c"/>
<circle cx="317.5" cy="43.4" r="1.05" fill="#f41c1c"/>
<circle cx="318.4" cy="43.9" r="1.05" fill="#f41c1c"/>
<circle cx="319.3" cy="44.5" r="1.05" fill="#f41c1c"/>
<circle cx="320.2" cy="44.3" r="1.05" fill="#f41c1c"/>
<circle cx="321.1" cy="43.3" r="1.05" fill="#f41c1c"/>
<circle cx="322.0" cy="42.9" r="1.05" fill="#f41c1c"/>
<circle cx="322.9" cy="42.2" r="1.05" fill="#f41c1c"/>
<circle cx="323.8" cy="42.9" r="1.05" fill="#f41c1c"/>
<circle cx="324.7" cy="44.1" r="1.05" fill="#f41c1c"/>
<circle cx="325.6" cy="44.3" r="1.05" fill="#f41c1c"/>
<circle cx="326.5" cy="43.4" r="1.05" fill="#f41c1c"/>
<circle cx="327.4" cy="42.6" r="1.05" fill="#f41c1c"/>
<circle cx="328.3" cy="44.1" r="1.05" fill="#f41c1c"/>
<circle cx="329.2" cy="44.5" r="1.05" fill="#f41c1c"/>
<circle cx="330.1" cy="45.4" r="1.05" fill="#f41c1c"/>
<circle cx="331.0" cy="45.9" r="1.05" fill="#f41c1c"/>
<circle cx="331.9" cy="45.4" r="1.05" fill="#f41c1c"/>
<circle cx="332.8" cy="45.9" r="1.05" fill="#f41c1c"/>
<circle cx="333.7" cy="46.0" r="1.05" fill="#f41c1c"/>
<circle cx="334.6" cy="47.2" r="1.05" fill="#f41c1c"/>
<circle cx="335.5" cy="46.3" r="1.05" fill="#f41c1c"/>
<circle cx="336.4" cy="45.1" r="1.05" fill="#f41c1c"/>
<circle cx="337.3" cy="45.5" r="1.05" fill="#f41c1c"/>
<circle cx="338.2" cy="46.2" r="1.05" fill="#f41c1c"/>
<circle cx="339.1" cy="46.2" r="1.05" fill="#f41c1c"/>
<circle cx="340.0" cy="46.8" r="1.05" fill="#f41c1c"/>
<circle cx="263.8" cy="40.4" r="0.9" fill="#f41c1c"/>
<rect x="203.3" y="15" width="173.89999999999998" height="94.2" fill="none" stroke="#8a8a8a" stroke-width="0.9"/>
<line x1="203.3" y1="15" x2="203.3" y2="109.2" stroke="#5656b0" stroke-width="0.9"/>
<line x1="377.2" y1="15" x2="377.2" y2="109.2" stroke="#e47a7a" stroke-width="0.9"/>
<line x1="203.0" y1="109.2" x2="203.0" y2="107.2" stroke="#555" stroke-width="0.5"/>
<text x="203.0" y="117.6" font-family="Liberation Serif" font-size="6.5" text-anchor="middle" fill="#333" stroke="#333" stroke-width="0.14">1262</text>
<line x1="215.2" y1="109.2" x2="215.2" y2="108.0" stroke="#555" stroke-width="0.5"/>
<line x1="227.3" y1="109.2" x2="227.3" y2="107.2" stroke="#555" stroke-width="0.5"/>
<text x="227.3" y="117.6" font-family="Liberation Serif" font-size="6.5" text-anchor="middle" fill="#333" stroke="#333" stroke-width="0.14">1264</text>
<line x1="239.5" y1="109.2" x2="239.5" y2="108.0" stroke="#555" stroke-width="0.5"/>
<line x1="251.7" y1="109.2" x2="251.7" y2="107.2" stroke="#555" stroke-width="0.5"/>
<text x="251.7" y="117.6" font-family="Liberation Serif" font-size="6.5" text-anchor="middle" fill="#333" stroke="#333" stroke-width="0.14">1266</text>
<line x1="263.9" y1="109.2" x2="263.9" y2="108.0" stroke="#555" stroke-width="0.5"/>
<line x1="276.0" y1="109.2" x2="276.0" y2="107.2" stroke="#555" stroke-width="0.5"/>
<text x="276.0" y="117.6" font-family="Liberation Serif" font-size="6.5" text-anchor="middle" fill="#333" stroke="#333" stroke-width="0.14">1268</text>
<line x1="288.2" y1="109.2" x2="288.2" y2="108.0" stroke="#555" stroke-width="0.5"/>
<line x1="300.4" y1="109.2" x2="300.4" y2="107.2" stroke="#555" stroke-width="0.5"/>
<text x="300.4" y="117.6" font-family="Liberation Serif" font-size="6.5" text-anchor="middle" fill="#333" stroke="#333" stroke-width="0.14">1270</text>
<line x1="312.5" y1="109.2" x2="312.5" y2="108.0" stroke="#555" stroke-width="0.5"/>
<line x1="324.7" y1="109.2" x2="324.7" y2="107.2" stroke="#555" stroke-width="0.5"/>
<text x="324.7" y="117.6" font-family="Liberation Serif" font-size="6.5" text-anchor="middle" fill="#333" stroke="#333" stroke-width="0.14">1272</text>
<line x1="336.9" y1="109.2" x2="336.9" y2="108.0" stroke="#555" stroke-width="0.5"/>
<line x1="349.0" y1="109.2" x2="349.0" y2="107.2" stroke="#555" stroke-width="0.5"/>
<text x="349.0" y="117.6" font-family="Liberation Serif" font-size="6.5" text-anchor="middle" fill="#333" stroke="#333" stroke-width="0.14">1274</text>
<line x1="361.2" y1="109.2" x2="361.2" y2="108.0" stroke="#555" stroke-width="0.5"/>
<line x1="373.4" y1="109.2" x2="373.4" y2="107.2" stroke="#555" stroke-width="0.5"/>
<text x="373.4" y="117.6" font-family="Liberation Serif" font-size="6.5" text-anchor="middle" fill="#333" stroke="#333" stroke-width="0.14">1276</text>
<line x1="203.3" y1="14.9" x2="205.3" y2="14.9" stroke="#5656b0" stroke-width="0.5"/>
<text x="200.9" y="17.0" font-family="Liberation Serif" font-size="6.4" text-anchor="end" fill="#4646a8" stroke="#4646a8" stroke-width="0.14">-10</text>
<line x1="203.3" y1="22.8" x2="204.5" y2="22.8" stroke="#5656b0" stroke-width="0.5"/>
<line x1="203.3" y1="30.6" x2="205.3" y2="30.6" stroke="#5656b0" stroke-width="0.5"/>
<text x="200.9" y="32.7" font-family="Liberation Serif" font-size="6.4" text-anchor="end" fill="#4646a8" stroke="#4646a8" stroke-width="0.14">-20</text>
<line x1="203.3" y1="38.5" x2="204.5" y2="38.5" stroke="#5656b0" stroke-width="0.5"/>
<line x1="203.3" y1="46.3" x2="205.3" y2="46.3" stroke="#5656b0" stroke-width="0.5"/>
<text x="200.9" y="48.4" font-family="Liberation Serif" font-size="6.4" text-anchor="end" fill="#4646a8" stroke="#4646a8" stroke-width="0.14">-30</text>
<line x1="203.3" y1="54.2" x2="204.5" y2="54.2" stroke="#5656b0" stroke-width="0.5"/>
<line x1="203.3" y1="62.1" x2="205.3" y2="62.1" stroke="#5656b0" stroke-width="0.5"/>
<text x="200.9" y="64.2" font-family="Liberation Serif" font-size="6.4" text-anchor="end" fill="#4646a8" stroke="#4646a8" stroke-width="0.14">-40</text>
<line x1="203.3" y1="69.9" x2="204.5" y2="69.9" stroke="#5656b0" stroke-width="0.5"/>
<line x1="203.3" y1="77.8" x2="205.3" y2="77.8" stroke="#5656b0" stroke-width="0.5"/>
<text x="200.9" y="79.9" font-family="Liberation Serif" font-size="6.4" text-anchor="end" fill="#4646a8" stroke="#4646a8" stroke-width="0.14">-50</text>
<line x1="203.3" y1="85.6" x2="204.5" y2="85.6" stroke="#5656b0" stroke-width="0.5"/>
<line x1="203.3" y1="93.5" x2="205.3" y2="93.5" stroke="#5656b0" stroke-width="0.5"/>
<text x="200.9" y="95.6" font-family="Liberation Serif" font-size="6.4" text-anchor="end" fill="#4646a8" stroke="#4646a8" stroke-width="0.14">-60</text>
<line x1="203.3" y1="101.4" x2="204.5" y2="101.4" stroke="#5656b0" stroke-width="0.5"/>
<line x1="203.3" y1="109.2" x2="205.3" y2="109.2" stroke="#5656b0" stroke-width="0.5"/>
<text x="200.9" y="111.3" font-family="Liberation Serif" font-size="6.4" text-anchor="end" fill="#4646a8" stroke="#4646a8" stroke-width="0.14">-70</text>
<line x1="377.2" y1="108.7" x2="375.2" y2="108.7" stroke="#e86060" stroke-width="0.5"/>
<text x="380.8" y="110.8" font-family="Liberation Serif" font-size="6.3" fill="#e84848" stroke="#e84848" stroke-width="0.14">0</text>
<line x1="377.2" y1="91.0" x2="375.2" y2="91.0" stroke="#e86060" stroke-width="0.5"/>
<text x="380.8" y="93.1" font-family="Liberation Serif" font-size="6.3" fill="#e84848" stroke="#e84848" stroke-width="0.14">3</text>
<line x1="377.2" y1="73.4" x2="375.2" y2="73.4" stroke="#e86060" stroke-width="0.5"/>
<text x="380.8" y="75.5" font-family="Liberation Serif" font-size="6.3" fill="#e84848" stroke="#e84848" stroke-width="0.14">6</text>
<line x1="377.2" y1="55.7" x2="375.2" y2="55.7" stroke="#e86060" stroke-width="0.5"/>
<text x="380.8" y="57.8" font-family="Liberation Serif" font-size="6.3" fill="#e84848" stroke="#e84848" stroke-width="0.14">9</text>
<line x1="377.2" y1="38.1" x2="375.2" y2="38.1" stroke="#e86060" stroke-width="0.5"/>
<text x="380.8" y="40.2" font-family="Liberation Serif" font-size="6.3" fill="#e84848" stroke="#e84848" stroke-width="0.14">12</text>
<line x1="377.2" y1="20.4" x2="375.2" y2="20.4" stroke="#e86060" stroke-width="0.5"/>
<text x="380.8" y="22.5" font-family="Liberation Serif" font-size="6.3" fill="#e84848" stroke="#e84848" stroke-width="0.14">15</text>
<line x1="205" y1="20.3" x2="220" y2="20.3" stroke="#9a9ede" stroke-width="1.4"/>
<text x="221.5" y="23.2" font-family="Liberation Serif" font-size="7.3" fill="#111" stroke="#111" stroke-width="0.14">Spectrum</text>
<line x1="252" y1="20.6" x2="268" y2="20.6" stroke="#9a9ede" stroke-width="1.4"/>
<circle cx="260.5" cy="20.6" r="1.2" fill="#ee2020"/>
<text x="271.6" y="23.2" font-family="Liberation Serif" font-size="7.34" fill="#111" stroke="#111" stroke-width="0.14">Linewidth measured w/ SOA</text>
<text x="177.6" y="9.0" font-family="Liberation Sans" font-weight="bold" font-size="11" fill="#111">C</text>
<text x="290.6" y="127.5" font-family="Liberation Serif" font-size="10.6" text-anchor="middle" fill="#111" stroke="#111" stroke-width="0.22">Wavelength (nm)</text>
<text transform="translate(187.3,64.75) rotate(-90)" font-family="Liberation Serif" font-size="11.1" text-anchor="middle" fill="#111" stroke="#111" stroke-width="0.22">Power (dBm)</text>
<text transform="translate(397.7,63.4) rotate(-90)" font-family="Liberation Serif" font-size="11.85" text-anchor="middle" fill="#111" stroke="#111" stroke-width="0.22">Spectral linewidth (MHz)</text>
<path d="M22.8 228.8h0.01M24.0 225.8h0.01M24.5 229.4h0.01M24.6 228.8h0.01M25.5 225.1h0.01M25.7 225.8h0.01M26.0 229.3h0.01M27.1 225.8h0.01M27.0 228.7h0.01M27.4 227.8h0.01M27.7 227.8h0.01M28.5 226.9h0.01M29.0 228.1h0.01M29.2 223.5h0.01M29.7 227.3h0.01M30.2 228.8h0.01M30.7 226.6h0.01M31.4 227.1h0.01M31.7 228.2h0.01M31.7 226.1h0.01M32.3 229.0h0.01M32.8 228.0h0.01M32.7 227.8h0.01M33.5 227.4h0.01M33.9 230.9h0.01M34.1 226.7h0.01M34.4 227.9h0.01M35.1 226.6h0.01M35.3 229.3h0.01M35.3 227.3h0.01M36.4 229.7h0.01M36.3 225.0h0.01M36.7 229.0h0.01M37.1 227.3h0.01M37.9 228.4h0.01M38.2 225.3h0.01M38.9 230.4h0.01M38.8 226.4h0.01M39.4 227.3h0.01M39.6 226.4h0.01M39.9 229.0h0.01M40.2 229.8h0.01M40.7 227.9h0.01M40.8 227.9h0.01M41.1 227.0h0.01M41.7 228.6h0.01M41.8 228.2h0.01M42.4 226.5h0.01M43.0 228.4h0.01M43.5 228.0h0.01M43.9 225.2h0.01M44.6 225.5h0.01M44.9 228.1h0.01M45.2 228.9h0.01M45.9 228.2h0.01M46.4 227.7h0.01M46.5 226.1h0.01M47.3 224.5h0.01M47.8 228.1h0.01M48.3 227.7h0.01M48.5 228.8h0.01M48.6 225.8h0.01M49.3 225.5h0.01M49.2 226.3h0.01M50.2 228.2h0.01M50.6 226.6h0.01M50.8 225.5h0.01M51.2 227.1h0.01M51.6 227.0h0.01M52.3 226.6h0.01M53.1 224.4h0.01M53.3 222.4h0.01M54.0 225.0h0.01M54.1 226.3h0.01M54.3 226.3h0.01M54.6 226.7h0.01M55.4 222.3h0.01M55.3 224.6h0.01M56.1 221.7h0.01M56.6 225.0h0.01M56.9 222.5h0.01M57.6 223.2h0.01M57.7 223.3h0.01M58.2 222.4h0.01M59.1 222.7h0.01M59.3 221.8h0.01M59.9 220.7h0.01M60.3 222.4h0.01M60.7 221.5h0.01M60.7 219.8h0.01M61.3 222.1h0.01M62.1 220.7h0.01M62.2 217.1h0.01M62.3 222.2h0.01M63.3 220.3h0.01M64.2 217.8h0.01M64.3 219.8h0.01M64.4 219.0h0.01M64.9 213.1h0.01M65.4 217.4h0.01M65.4 215.2h0.01M66.1 216.5h0.01M66.4 212.1h0.01M66.7 212.4h0.01M67.5 214.0h0.01M67.6 212.3h0.01M68.2 212.1h0.01M68.6 208.9h0.01M69.0 209.1h0.01M69.9 206.5h0.01M69.8 202.9h0.01M70.5 205.7h0.01M71.5 206.6h0.01M72.2 202.0h0.01M72.8 197.3h0.01M73.3 197.6h0.01M73.4 197.1h0.01M73.9 196.8h0.01M74.1 199.1h0.01M74.5 191.9h0.01M75.2 192.5h0.01M75.8 184.2h0.01M76.4 181.9h0.01M76.8 186.6h0.01M77.4 178.6h0.01M78.2 179.3h0.01M78.2 177.9h0.01M78.8 175.2h0.01M78.8 169.5h0.01M79.1 170.1h0.01M79.7 166.1h0.01M80.3 163.1h0.01M81.4 169.6h0.01M81.2 163.6h0.01M81.7 157.1h0.01M82.0 162.3h0.01M82.9 155.0h0.01M83.0 157.8h0.01M83.5 156.7h0.01M84.1 155.5h0.01M84.2 149.8h0.01M84.7 146.5h0.01M84.6 154.2h0.01M85.1 148.7h0.01M85.8 145.6h0.01M85.7 152.4h0.01M86.8 143.3h0.01M86.8 143.0h0.01M87.3 138.6h0.01M87.7 147.9h0.01M88.1 142.3h0.01M88.2 138.7h0.01M90.0 145.6h0.01M90.2 138.7h0.01M90.2 138.3h0.01M91.1 144.1h0.01M91.1 142.7h0.01M91.3 143.1h0.01M92.0 145.6h0.01M92.7 145.3h0.01M93.4 149.2h0.01M93.4 148.4h0.01M94.1 147.5h0.01M94.3 151.9h0.01M94.7 150.6h0.01M94.9 151.2h0.01M95.5 153.5h0.01M95.8 158.0h0.01M96.1 154.4h0.01M96.1 154.6h0.01M96.5 155.6h0.01M96.8 154.2h0.01M98.4 165.5h0.01M98.4 169.9h0.01M99.0 170.6h0.01M100.7 169.8h0.01M101.1 178.2h0.01M101.5 179.4h0.01M102.1 178.8h0.01M103.2 191.3h0.01M103.5 189.1h0.01M104.1 187.0h0.01M104.5 187.8h0.01M104.8 187.8h0.01M105.6 194.4h0.01M106.0 199.1h0.01M106.4 196.6h0.01M106.8 199.8h0.01M106.8 198.3h0.01M108.0 205.4h0.01M108.6 203.2h0.01M109.9 205.4h0.01M110.2 208.4h0.01M110.4 206.2h0.01M110.7 208.3h0.01M111.1 211.8h0.01M111.1 209.4h0.01M112.0 210.3h0.01M112.3 214.7h0.01M112.3 215.7h0.01M112.5 212.7h0.01M113.2 211.2h0.01M113.3 212.4h0.01M114.3 212.9h0.01M114.2 217.2h0.01M114.9 216.7h0.01M115.9 221.1h0.01M116.0 220.0h0.01M116.3 219.1h0.01M116.5 220.0h0.01M117.5 218.5h0.01M117.8 218.3h0.01M118.8 220.9h0.01M118.9 222.2h0.01M119.1 221.4h0.01M119.4 221.5h0.01M119.8 221.1h0.01M120.2 221.2h0.01M121.0 221.9h0.01M121.5 223.1h0.01M121.3 223.6h0.01M122.1 225.9h0.01M122.7 223.4h0.01M122.8 223.9h0.01M123.4 224.0h0.01M124.6 224.9h0.01M124.8 224.3h0.01M125.0 227.1h0.01M125.8 223.7h0.01M125.8 226.0h0.01M126.2 226.0h0.01M126.7 223.0h0.01M127.1 224.0h0.01M127.2 227.2h0.01M127.6 222.4h0.01M127.7 226.2h0.01M128.6 226.8h0.01M128.8 225.8h0.01M129.0 227.9h0.01M129.5 226.5h0.01M129.8 226.6h0.01M130.4 226.3h0.01M130.4 225.4h0.01M131.0 226.8h0.01M131.3 226.3h0.01M131.9 228.8h0.01M132.0 226.7h0.01M132.2 226.0h0.01M132.8 225.1h0.01M132.8 226.9h0.01M133.8 224.4h0.01M133.9 224.0h0.01M134.9 229.7h0.01M134.8 230.2h0.01M135.4 225.2h0.01M135.6 225.4h0.01M136.0 229.4h0.01M137.2 226.6h0.01M137.7 226.8h0.01M138.2 228.6h0.01M138.1 229.2h0.01M138.7 225.7h0.01M139.2 226.6h0.01M140.3 226.8h0.01M140.6 225.4h0.01M141.3 227.3h0.01M141.5 228.6h0.01M141.9 227.5h0.01M142.4 227.3h0.01M142.9 229.9h0.01M143.3 226.0h0.01M143.5 226.5h0.01M143.8 228.3h0.01M145.2 227.2h0.01M145.6 227.9h0.01M145.5 229.2h0.01M145.9 228.1h0.01M146.6 228.2h0.01M147.0 226.6h0.01M147.7 229.6h0.01M147.6 230.1h0.01M148.2 228.0h0.01M148.5 228.3h0.01M148.6 229.0h0.01M149.8 229.1h0.01M150.0 227.3h0.01M150.6 227.5h0.01M151.2 226.1h0.01M151.6 224.7h0.01M152.2 226.9h0.01M152.8 228.0h0.01M153.4 226.9h0.01M153.6 228.1h0.01M154.5 229.1h0.01M154.5 228.7h0.01M155.2 230.9h0.01M155.9 227.3h0.01M156.0 227.8h0.01M156.7 227.0h0.01M157.4 228.8h0.01" stroke="#1a1a1a" stroke-width="2.1" stroke-linecap="round" fill="none"/>
<circle cx="90.2" cy="141.1" r="1.2" fill="#1a1a1a"/>
<polyline points="22.4,229.4 22.8,229.4 23.1,229.4 23.5,229.4 23.8,229.4 24.1,229.4 24.5,229.4 24.8,229.4 25.1,229.4 25.5,229.4 25.8,229.4 26.2,229.4 26.5,229.4 26.8,229.4 27.2,229.4 27.5,229.4 27.8,229.4 28.2,229.4 28.5,229.4 28.9,229.3 29.2,229.3 29.5,229.3 29.9,229.3 30.2,229.3 30.5,229.3 30.9,229.3 31.2,229.3 31.5,229.3 31.9,229.3 32.2,229.3 32.6,229.3 32.9,229.3 33.2,229.3 33.6,229.3 33.9,229.3 34.2,229.3 34.6,229.3 34.9,229.3 35.3,229.3 35.6,229.3 35.9,229.3 36.3,229.3 36.6,229.3 36.9,229.2 37.3,229.2 37.6,229.2 38.0,229.2 38.3,229.2 38.6,229.2 39.0,229.2 39.3,229.2 39.6,229.2 40.0,229.2 40.3,229.2 40.6,229.1 41.0,229.1 41.3,229.1 41.7,229.1 42.0,229.1 42.3,229.1 42.7,229.1 43.0,229.0 43.3,229.0 43.7,229.0 44.0,229.0 44.4,229.0 44.7,228.9 45.0,228.9 45.4,228.9 45.7,228.9 46.0,228.8 46.4,228.8 46.7,228.8 47.1,228.8 47.4,228.7 47.7,228.7 48.1,228.7 48.4,228.6 48.7,228.6 49.1,228.5 49.4,228.5 49.7,228.5 50.1,228.4 50.4,228.4 50.8,228.3 51.1,228.3 51.4,228.2 51.8,228.1 52.1,228.1 52.4,228.0 52.8,227.9 53.1,227.9 53.5,227.8 53.8,227.7 54.1,227.6 54.5,227.5 54.8,227.4 55.1,227.3 55.5,227.2 55.8,227.1 56.1,227.0 56.5,226.9 56.8,226.8 57.2,226.7 57.5,226.5 57.8,226.4 58.2,226.2 58.5,226.1 58.8,225.9 59.2,225.7 59.5,225.5 59.9,225.4 60.2,225.2 60.5,225.0 60.9,224.7 61.2,224.5 61.5,224.3 61.9,224.0 62.2,223.8 62.6,223.5 62.9,223.2 63.2,222.9 63.6,222.6 63.9,222.2 64.2,221.9 64.6,221.5 64.9,221.2 65.2,220.8 65.6,220.3 65.9,219.9 66.3,219.5 66.6,219.0 66.9,218.5 67.3,218.0 67.6,217.5 67.9,216.9 68.3,216.3 68.6,215.7 69.0,215.1 69.3,214.4 69.6,213.7 70.0,213.0 70.3,212.3 70.6,211.5 71.0,210.7 71.3,209.9 71.7,209.0 72.0,208.2 72.3,207.2 72.7,206.3 73.0,205.3 73.3,204.3 73.7,203.2 74.0,202.1 74.3,201.0 74.7,199.8 75.0,198.7 75.4,197.4 75.7,196.2 76.0,194.9 76.4,193.6 76.7,192.2 77.0,190.8 77.4,189.4 77.7,188.0 78.1,186.5 78.4,185.0 78.7,183.5 79.1,182.0 79.4,180.4 79.7,178.8 80.1,177.3 80.4,175.7 80.8,174.1 81.1,172.5 81.4,170.9 81.8,169.3 82.1,167.8 82.4,166.2 82.8,164.7 83.1,163.2 83.4,161.7 83.8,160.2 84.1,158.8 84.5,157.5 84.8,156.2 85.1,154.9 85.5,153.7 85.8,152.6 86.1,151.5 86.5,150.5 86.8,149.6 87.2,148.8 87.5,148.1 87.8,147.5 88.2,146.9 88.5,146.5 88.8,146.1 89.2,145.8 89.5,145.7 89.8,145.6 90.2,145.7 90.5,145.8 90.9,146.1 91.2,146.5 91.5,146.9 91.9,147.5 92.2,148.1 92.5,148.8 92.9,149.6 93.2,150.5 93.6,151.5 93.9,152.6 94.2,153.7 94.6,154.9 94.9,156.2 95.2,157.5 95.6,158.8 95.9,160.2 96.3,161.7 96.6,163.2 96.9,164.7 97.3,166.2 97.6,167.8 97.9,169.3 98.3,170.9 98.6,172.5 98.9,174.1 99.3,175.7 99.6,177.3 100.0,178.8 100.3,180.4 100.6,182.0 101.0,183.5 101.3,185.0 101.6,186.5 102.0,188.0 102.3,189.4 102.7,190.8 103.0,192.2 103.3,193.6 103.7,194.9 104.0,196.2 104.3,197.4 104.7,198.7 105.0,199.8 105.4,201.0 105.7,202.1 106.0,203.2 106.4,204.3 106.7,205.3 107.0,206.3 107.4,207.2 107.7,208.2 108.0,209.0 108.4,209.9 108.7,210.7 109.1,211.5 109.4,212.3 109.7,213.0 110.1,213.7 110.4,214.4 110.7,215.1 111.1,215.7 111.4,216.3 111.8,216.9 112.1,217.5 112.4,218.0 112.8,218.5 113.1,219.0 113.4,219.5 113.8,219.9 114.1,220.3 114.5,220.8 114.8,221.2 115.1,221.5 115.5,221.9 115.8,222.2 116.1,222.6 116.5,222.9 116.8,223.2 117.1,223.5 117.5,223.8 117.8,224.0 118.2,224.3 118.5,224.5 118.8,224.7 119.2,225.0 119.5,225.2 119.8,225.4 120.2,225.5 120.5,225.7 120.9,225.9 121.2,226.1 121.5,226.2 121.9,226.4 122.2,226.5 122.5,226.7 122.9,226.8 123.2,226.9 123.5,227.0 123.9,227.1 124.2,227.2 124.6,227.3 124.9,227.4 125.2,227.5 125.6,227.6 125.9,227.7 126.2,227.8 126.6,227.9 126.9,227.9 127.3,228.0 127.6,228.1 127.9,228.1 128.3,228.2 128.6,228.3 128.9,228.3 129.3,228.4 129.6,228.4 130.0,228.5 130.3,228.5 130.6,228.5 131.0,228.6 131.3,228.6 131.6,228.7 132.0,228.7 132.3,228.7 132.6,228.8 133.0,228.8 133.3,228.8 133.7,228.8 134.0,228.9 134.3,228.9 134.7,228.9 135.0,228.9 135.3,229.0 135.7,229.0 136.0,229.0 136.4,229.0 136.7,229.0 137.0,229.1 137.4,229.1 137.7,229.1 138.0,229.1 138.4,229.1 138.7,229.1 139.1,229.1 139.4,229.2 139.7,229.2 140.1,229.2 140.4,229.2 140.7,229.2 141.1,229.2 141.4,229.2 141.7,229.2 142.1,229.2 142.4,229.2 142.8,229.2 143.1,229.3 143.4,229.3 143.8,229.3 144.1,229.3 144.4,229.3 144.8,229.3 145.1,229.3 145.5,229.3 145.8,229.3 146.1,229.3 146.5,229.3 146.8,229.3 147.1,229.3 147.5,229.3 147.8,229.3 148.2,229.3 148.5,229.3 148.8,229.3 149.2,229.3 149.5,229.3 149.8,229.3 150.2,229.3 150.5,229.3 150.8,229.3 151.2,229.4 151.5,229.4 151.9,229.4 152.2,229.4 152.5,229.4 152.9,229.4 153.2,229.4 153.5,229.4 153.9,229.4 154.2,229.4 154.6,229.4 154.9,229.4 155.2,229.4 155.6,229.4 155.9,229.4 156.2,229.4 156.6,229.4 156.9,229.4 157.2,229.4" stroke="#ec1c1c" stroke-width="3.0" fill="none"/>
<path d="M65.4 217.4h0.01M69.0 209.1h0.01M73.9 196.8h0.01M78.2 177.9h0.01M82.0 162.3h0.01M85.8 145.6h0.01M90.2 138.7h0.01M94.1 147.5h0.01M96.8 154.2h0.01M103.5 189.1h0.01M108.0 205.4h0.01M112.3 214.7h0.01M116.0 220.0h0.01" stroke="#1a1a1a" stroke-width="1.6" stroke-linecap="round" fill="none" opacity="0.8"/>
<rect x="22.4" y="121.5" width="135.1" height="110.80000000000001" fill="none" stroke="#808080" stroke-width="0.9"/>
<line x1="22.4" y1="232.3" x2="22.4" y2="230.3" stroke="#555" stroke-width="0.5"/>
<text x="22.4" y="241.3" font-family="Liberation Serif" font-size="7.7" text-anchor="middle" fill="#222" stroke="#222" stroke-width="0.14">-20</text>
<line x1="39.3" y1="232.3" x2="39.3" y2="231.10000000000002" stroke="#555" stroke-width="0.5"/>
<line x1="56.1" y1="232.3" x2="56.1" y2="230.3" stroke="#555" stroke-width="0.5"/>
<text x="56.1" y="241.3" font-family="Liberation Serif" font-size="7.7" text-anchor="middle" fill="#222" stroke="#222" stroke-width="0.14">-10</text>
<line x1="73.0" y1="232.3" x2="73.0" y2="231.10000000000002" stroke="#555" stroke-width="0.5"/>
<line x1="89.8" y1="232.3" x2="89.8" y2="230.3" stroke="#555" stroke-width="0.5"/>
<text x="89.8" y="241.3" font-family="Liberation Serif" font-size="7.7" text-anchor="middle" fill="#222" stroke="#222" stroke-width="0.14">0</text>
<line x1="106.7" y1="232.3" x2="106.7" y2="231.10000000000002" stroke="#555" stroke-width="0.5"/>
<line x1="123.5" y1="232.3" x2="123.5" y2="230.3" stroke="#555" stroke-width="0.5"/>
<text x="123.5" y="241.3" font-family="Liberation Serif" font-size="7.7" text-anchor="middle" fill="#222" stroke="#222" stroke-width="0.14">10</text>
<line x1="140.4" y1="232.3" x2="140.4" y2="231.10000000000002" stroke="#555" stroke-width="0.5"/>
<line x1="157.2" y1="232.3" x2="157.2" y2="230.3" stroke="#555" stroke-width="0.5"/>
<text x="157.2" y="241.3" font-family="Liberation Serif" font-size="7.7" text-anchor="middle" fill="#222" stroke="#222" stroke-width="0.14">20</text>
<line x1="22.4" y1="231.9" x2="24.4" y2="231.9" stroke="#555" stroke-width="0.5"/>
<text x="20.4" y="234.5" font-family="Liberation Serif" font-size="7.7" text-anchor="end" fill="#222" stroke="#222" stroke-width="0.14">0</text>
<line x1="22.4" y1="221.9" x2="23.599999999999998" y2="221.9" stroke="#555" stroke-width="0.5"/>
<line x1="22.4" y1="211.8" x2="24.4" y2="211.8" stroke="#555" stroke-width="0.5"/>
<text x="20.4" y="214.4" font-family="Liberation Serif" font-size="7.7" text-anchor="end" fill="#222" stroke="#222" stroke-width="0.14">2</text>
<line x1="22.4" y1="201.8" x2="23.599999999999998" y2="201.8" stroke="#555" stroke-width="0.5"/>
<line x1="22.4" y1="191.8" x2="24.4" y2="191.8" stroke="#555" stroke-width="0.5"/>
<text x="20.4" y="194.4" font-family="Liberation Serif" font-size="7.7" text-anchor="end" fill="#222" stroke="#222" stroke-width="0.14">4</text>
<line x1="22.4" y1="181.8" x2="23.599999999999998" y2="181.8" stroke="#555" stroke-width="0.5"/>
<line x1="22.4" y1="171.7" x2="24.4" y2="171.7" stroke="#555" stroke-width="0.5"/>
<text x="20.4" y="174.3" font-family="Liberation Serif" font-size="7.7" text-anchor="end" fill="#222" stroke="#222" stroke-width="0.14">6</text>
<line x1="22.4" y1="161.7" x2="23.599999999999998" y2="161.7" stroke="#555" stroke-width="0.5"/>
<line x1="22.4" y1="151.7" x2="24.4" y2="151.7" stroke="#555" stroke-width="0.5"/>
<text x="20.4" y="154.3" font-family="Liberation Serif" font-size="7.7" text-anchor="end" fill="#222" stroke="#222" stroke-width="0.14">8</text>
<line x1="22.4" y1="141.6" x2="23.599999999999998" y2="141.6" stroke="#555" stroke-width="0.5"/>
<line x1="22.4" y1="131.6" x2="24.4" y2="131.6" stroke="#555" stroke-width="0.5"/>
<text x="20.4" y="134.2" font-family="Liberation Serif" font-size="7.7" text-anchor="end" fill="#222" stroke="#222" stroke-width="0.14">10</text>
<circle cx="100.7" cy="132" r="1.1" fill="#111"/>
<circle cx="100.7" cy="143" r="1.1" fill="#e81c1c"/>
<text x="108" y="134.4" font-family="Liberation Serif" font-size="7.65" fill="#111" stroke="#111" stroke-width="0.14">Measured trace</text>
<text x="108" y="145.4" font-family="Liberation Serif" font-size="7.65" fill="#111" stroke="#111" stroke-width="0.14">Sech<tspan font-size="4.6" dy="-3">2</tspan><tspan dy="3"> fit</tspan></text>
<text x="26.2" y="149.8" font-family="Liberation Serif" font-size="7.8" fill="#111" stroke="#111" stroke-width="0.14">Pulse width: 5 ps</text>
<text x="0.2" y="132.2" font-family="Liberation Sans" font-weight="bold" font-size="10.6" fill="#111">B</text>
<text x="89.3" y="251.6" font-family="Liberation Serif" font-size="11.3" text-anchor="middle" fill="#111" stroke="#111" stroke-width="0.22">Time (ps)</text>
<text transform="translate(9.8,176.5) rotate(-90)" font-family="Liberation Serif" font-size="11.35" text-anchor="middle" fill="#111" stroke="#111" stroke-width="0.22">Intensity (a.u.)</text>
<line x1="260.6" y1="133.2" x2="260.6" y2="227.6" stroke="#d0d0d0" stroke-width="0.7"/>
<line x1="318.9" y1="133.2" x2="318.9" y2="227.6" stroke="#d0d0d0" stroke-width="0.7"/>
<rect x="203" y="191" width="90" height="36" fill="#fff"/>
<polyline points="204.0,151.6 209.8,152.6 214.7,153.6 220.6,152.6 227.5,155.5 231.4,156.5 234.0,157.6 235.2,157.1 236.4,156.6 237.6,157.3 238.8,156.9 240.0,157.2 241.2,156.6 242.4,156.7 243.6,158.6 244.8,158.4 246.0,157.4 247.2,158.2 248.4,157.2 249.6,158.8 250.8,158.4 252.0,158.6 253.2,158.1 254.4,158.1 255.6,158.8 256.8,157.8 258.0,157.4 259.2,157.4 260.4,159.0 261.6,157.6 262.8,157.1 264.0,158.1 265.2,157.1 266.4,157.6 267.6,158.2 268.8,157.1 270.0,157.3 271.2,158.4 272.4,158.2 273.6,158.2 274.8,156.6 276.0,158.4 277.2,157.6 278.4,156.8 279.6,158.5 280.8,156.7 282.0,158.3 283.2,156.3 284.4,156.3 285.6,157.0 286.8,157.2 288.0,157.0 289.2,157.4 290.4,155.9 291.6,157.3 292.8,156.6 294.0,157.9 295.2,157.4 296.4,157.6 297.6,156.6 298.8,158.2 300.0,157.1 301.2,157.3 302.4,158.1 303.6,159.1 304.8,158.6 309.0,159.4 313.2,160.2 317.4,160.1 321.6,160.6 325.8,161.8 330.0,162.4 334.2,161.5 338.4,159.7 344.0,159.5 345.1,159.6 346.2,158.9 347.3,157.4 348.4,156.7 349.5,158.2 350.6,157.3 351.7,156.2 352.8,156.9 353.9,156.4 355.0,156.3 356.1,155.3 357.2,155.5 358.3,154.4 359.4,154.0 360.5,153.5 361.6,154.2 362.7,154.2 363.8,152.8 364.9,152.2 366.0,152.7 367.1,153.9 368.2,153.4 369.3,152.9 370.4,154.8 371.5,154.2 372.6,153.7 373.7,155.2 374.8,155.0 375.9,156.1 377.0,156.7" stroke="#dc22dc" stroke-width="0.6" fill="none"/>
<path d="M204.0 151.6h0.01M209.8 152.6h0.01M214.7 153.6h0.01M220.6 152.6h0.01M227.5 155.5h0.01M231.4 156.5h0.01M234.0 157.6h0.01M235.2 157.1h0.01M236.4 156.6h0.01M237.6 157.3h0.01M238.8 156.9h0.01M240.0 157.2h0.01M241.2 156.6h0.01M242.4 156.7h0.01M243.6 158.6h0.01M244.8 158.4h0.01M246.0 157.4h0.01M247.2 158.2h0.01M248.4 157.2h0.01M249.6 158.8h0.01M250.8 158.4h0.01M252.0 158.6h0.01M253.2 158.1h0.01M254.4 158.1h0.01M255.6 158.8h0.01M256.8 157.8h0.01M258.0 157.4h0.01M259.2 157.4h0.01M260.4 159.0h0.01M261.6 157.6h0.01M262.8 157.1h0.01M264.0 158.1h0.01M265.2 157.1h0.01M266.4 157.6h0.01M267.6 158.2h0.01M268.8 157.1h0.01M270.0 157.3h0.01M271.2 158.4h0.01M272.4 158.2h0.01M273.6 158.2h0.01M274.8 156.6h0.01M276.0 158.4h0.01M277.2 157.6h0.01M278.4 156.8h0.01M279.6 158.5h0.01M280.8 156.7h0.01M282.0 158.3h0.01M283.2 156.3h0.01M284.4 156.3h0.01M285.6 157.0h0.01M286.8 157.2h0.01M288.0 157.0h0.01M289.2 157.4h0.01M290.4 155.9h0.01M291.6 157.3h0.01M292.8 156.6h0.01M294.0 157.9h0.01M295.2 157.4h0.01M296.4 157.6h0.01M297.6 156.6h0.01M298.8 158.2h0.01M300.0 157.1h0.01M301.2 157.3h0.01M302.4 158.1h0.01M303.6 159.1h0.01M304.8 158.6h0.01M309.0 159.4h0.01M313.2 160.2h0.01M317.4 160.1h0.01M321.6 160.6h0.01M325.8 161.8h0.01M330.0 162.4h0.01M334.2 161.5h0.01M338.4 159.7h0.01M344.0 159.5h0.01M345.1 159.6h0.01M346.2 158.9h0.01M347.3 157.4h0.01M348.4 156.7h0.01M349.5 158.2h0.01M350.6 157.3h0.01M351.7 156.2h0.01M352.8 156.9h0.01M353.9 156.4h0.01M355.0 156.3h0.01M356.1 155.3h0.01M357.2 155.5h0.01M358.3 154.4h0.01M359.4 154.0h0.01M360.5 153.5h0.01M361.6 154.2h0.01M362.7 154.2h0.01M363.8 152.8h0.01M364.9 152.2h0.01M366.0 152.7h0.01M367.1 153.9h0.01M368.2 153.4h0.01M369.3 152.9h0.01M370.4 154.8h0.01M371.5 154.2h0.01M372.6 153.7h0.01M373.7 155.2h0.01M374.8 155.0h0.01M375.9 156.1h0.01M377.0 156.7h0.01" stroke="#dc22dc" stroke-width="2.5" stroke-linecap="round" fill="none"/>
<polyline points="204.0,146.7 213.8,138.9 220.6,149.7 227.5,152.6 231.4,150.6 234.0,151.8 235.2,152.2 236.4,151.5 237.6,152.6 238.8,152.2 240.0,152.8 241.2,152.0 242.4,152.9 243.6,151.8 244.8,153.5 246.0,152.2 247.2,153.0 248.4,153.6 249.6,153.6 250.8,153.7 252.0,152.8 253.2,152.0 254.4,153.8 255.6,152.4 256.8,153.5 258.0,152.5 259.2,152.5 260.4,152.7 261.6,152.6 262.8,153.0 264.0,152.6 265.2,151.7 266.4,152.4 267.6,151.5 268.8,153.0 270.0,151.6 271.2,151.9 272.4,152.3 273.6,151.7 274.8,152.8 276.0,152.5 277.2,151.5 278.4,151.7 279.6,152.2 280.8,151.7 282.0,151.9 283.2,151.3 284.4,151.7 285.6,151.4 286.8,151.4 288.0,149.7 289.2,151.3 290.4,150.7 291.6,151.6 292.8,151.7 294.0,153.3 295.2,151.7 296.4,152.2 297.6,152.7 298.8,153.3 300.0,153.3 301.2,152.4 302.4,153.1 303.6,153.9 304.8,153.0" stroke="#22dcdc" stroke-width="0.6" fill="none"/>
<path d="M204.0 146.7h0.01M213.8 138.9h0.01M220.6 149.7h0.01M227.5 152.6h0.01M231.4 150.6h0.01M234.0 151.8h0.01M235.2 152.2h0.01M236.4 151.5h0.01M237.6 152.6h0.01M238.8 152.2h0.01M240.0 152.8h0.01M241.2 152.0h0.01M242.4 152.9h0.01M243.6 151.8h0.01M244.8 153.5h0.01M246.0 152.2h0.01M247.2 153.0h0.01M248.4 153.6h0.01M249.6 153.6h0.01M250.8 153.7h0.01M252.0 152.8h0.01M253.2 152.0h0.01M254.4 153.8h0.01M255.6 152.4h0.01M256.8 153.5h0.01M258.0 152.5h0.01M259.2 152.5h0.01M260.4 152.7h0.01M261.6 152.6h0.01M262.8 153.0h0.01M264.0 152.6h0.01M265.2 151.7h0.01M266.4 152.4h0.01M267.6 151.5h0.01M268.8 153.0h0.01M270.0 151.6h0.01M271.2 151.9h0.01M272.4 152.3h0.01M273.6 151.7h0.01M274.8 152.8h0.01M276.0 152.5h0.01M277.2 151.5h0.01M278.4 151.7h0.01M279.6 152.2h0.01M280.8 151.7h0.01M282.0 151.9h0.01M283.2 151.3h0.01M284.4 151.7h0.01M285.6 151.4h0.01M286.8 151.4h0.01M288.0 149.7h0.01M289.2 151.3h0.01M290.4 150.7h0.01M291.6 151.6h0.01M292.8 151.7h0.01M294.0 153.3h0.01M295.2 151.7h0.01M296.4 152.2h0.01M297.6 152.7h0.01M298.8 153.3h0.01M300.0 153.3h0.01M301.2 152.4h0.01M302.4 153.1h0.01M303.6 153.9h0.01M304.8 153.0h0.01" stroke="#22dcdc" stroke-width="2.5" stroke-linecap="round" fill="none"/>
<polyline points="204.0,143.8 207.0,143.8 214.7,145.7 219.6,141.8 227.5,145.7 231.4,145.7 234.4,146.7 236.0,146.0 237.3,147.5 238.6,145.9 239.9,146.1 241.2,146.4 242.5,147.8 243.8,146.8 245.1,147.1 246.4,147.4 247.7,148.3 249.0,146.7 250.3,147.1 251.6,147.6 252.9,148.2 254.2,147.3 255.5,148.0 256.8,148.4 258.1,147.5 259.4,148.1 260.7,147.6 262.0,149.2 263.3,147.3 264.6,147.5 265.9,148.3 267.2,147.4 268.5,148.0 269.8,147.4 271.1,148.5 272.4,147.5 273.7,146.9 275.0,146.4 276.3,147.1 277.6,147.9 278.9,148.0 280.2,148.0 281.5,147.0 282.8,147.2 284.1,145.8 285.4,145.9 286.7,146.5 288.0,145.8 289.3,144.8 290.6,145.5 291.9,145.7 293.2,145.2 294.5,146.4 295.8,148.1 297.1,148.0 298.4,148.6 299.7,149.6 301.0,149.4 302.3,150.4 303.6,152.5 304.9,151.6 309.0,155.0 313.2,156.1 317.4,157.9 321.6,159.6 325.8,159.6 330.0,159.4 334.2,159.7 338.4,157.2 344.0,155.5 345.2,156.8 346.4,156.3 347.6,155.5 348.8,154.4 350.0,154.0 351.2,155.1 352.4,154.9 353.6,154.2 354.8,153.7 356.0,153.2 357.2,152.9 358.4,152.5 359.6,152.4 360.8,151.3 362.0,150.3 363.2,149.4 364.4,150.3 365.6,150.9 366.8,149.4 368.0,150.9 369.2,151.0 370.4,150.6 371.6,150.9 372.8,152.8 374.0,151.9 375.2,152.3 376.4,152.9" stroke="#2222d4" stroke-width="0.6" fill="none"/>
<path d="M202.5 142.8h3.0l-1.5 2.5zM205.5 142.8h3.0l-1.5 2.5zM213.2 144.7h3.0l-1.5 2.5zM218.1 140.8h3.0l-1.5 2.5zM226.0 144.7h3.0l-1.5 2.5zM229.9 144.7h3.0l-1.5 2.5zM232.9 145.7h3.0l-1.5 2.5zM234.5 145.0h3.0l-1.5 2.5zM235.8 146.5h3.0l-1.5 2.5zM237.1 144.9h3.0l-1.5 2.5zM238.4 145.1h3.0l-1.5 2.5zM239.7 145.4h3.0l-1.5 2.5zM241.0 146.8h3.0l-1.5 2.5zM242.3 145.9h3.0l-1.5 2.5zM243.6 146.1h3.0l-1.5 2.5zM244.9 146.4h3.0l-1.5 2.5zM246.2 147.3h3.0l-1.5 2.5zM247.5 145.7h3.0l-1.5 2.5zM248.8 146.1h3.0l-1.5 2.5zM250.1 146.7h3.0l-1.5 2.5zM251.4 147.2h3.0l-1.5 2.5zM252.7 146.3h3.0l-1.5 2.5zM254.0 147.0h3.0l-1.5 2.5zM255.3 147.4h3.0l-1.5 2.5zM256.6 146.5h3.0l-1.5 2.5zM257.9 147.1h3.0l-1.5 2.5zM259.2 146.6h3.0l-1.5 2.5zM260.5 148.2h3.0l-1.5 2.5zM261.8 146.3h3.0l-1.5 2.5zM263.1 146.5h3.0l-1.5 2.5zM264.4 147.3h3.0l-1.5 2.5zM265.7 146.4h3.0l-1.5 2.5zM267.0 147.0h3.0l-1.5 2.5zM268.3 146.4h3.0l-1.5 2.5zM269.6 147.6h3.0l-1.5 2.5zM270.9 146.5h3.0l-1.5 2.5zM272.2 145.9h3.0l-1.5 2.5zM273.5 145.4h3.0l-1.5 2.5zM274.8 146.2h3.0l-1.5 2.5zM276.1 146.9h3.0l-1.5 2.5zM277.4 147.0h3.0l-1.5 2.5zM278.7 147.0h3.0l-1.5 2.5zM280.0 146.0h3.0l-1.5 2.5zM281.3 146.2h3.0l-1.5 2.5zM282.6 144.8h3.0l-1.5 2.5zM283.9 144.9h3.0l-1.5 2.5zM285.2 145.5h3.0l-1.5 2.5zM286.5 144.8h3.0l-1.5 2.5zM287.8 143.9h3.0l-1.5 2.5zM289.1 144.5h3.0l-1.5 2.5zM290.4 144.8h3.0l-1.5 2.5zM291.7 144.3h3.0l-1.5 2.5zM293.0 145.4h3.0l-1.5 2.5zM294.3 147.1h3.0l-1.5 2.5zM295.6 147.0h3.0l-1.5 2.5zM296.9 147.6h3.0l-1.5 2.5zM298.2 148.6h3.0l-1.5 2.5zM299.5 148.4h3.0l-1.5 2.5zM300.8 149.4h3.0l-1.5 2.5zM302.1 151.5h3.0l-1.5 2.5zM303.4 150.7h3.0l-1.5 2.5zM307.5 154.0h3.0l-1.5 2.5zM311.7 155.1h3.0l-1.5 2.5zM315.9 156.9h3.0l-1.5 2.5zM320.1 158.6h3.0l-1.5 2.5zM324.3 158.7h3.0l-1.5 2.5zM328.5 158.4h3.0l-1.5 2.5zM332.7 158.7h3.0l-1.5 2.5zM336.9 156.3h3.0l-1.5 2.5zM342.5 154.5h3.0l-1.5 2.5zM343.7 155.8h3.0l-1.5 2.5zM344.9 155.3h3.0l-1.5 2.5zM346.1 154.5h3.0l-1.5 2.5zM347.3 153.4h3.0l-1.5 2.5zM348.5 153.0h3.0l-1.5 2.5zM349.7 154.2h3.0l-1.5 2.5zM350.9 153.9h3.0l-1.5 2.5zM352.1 153.2h3.0l-1.5 2.5zM353.3 152.7h3.0l-1.5 2.5zM354.5 152.2h3.0l-1.5 2.5zM355.7 151.9h3.0l-1.5 2.5zM356.9 151.5h3.0l-1.5 2.5zM358.1 151.4h3.0l-1.5 2.5zM359.3 150.3h3.0l-1.5 2.5zM360.5 149.4h3.0l-1.5 2.5zM361.7 148.5h3.0l-1.5 2.5zM362.9 149.3h3.0l-1.5 2.5zM364.1 149.9h3.0l-1.5 2.5zM365.3 148.4h3.0l-1.5 2.5zM366.5 149.9h3.0l-1.5 2.5zM367.7 150.1h3.0l-1.5 2.5zM368.9 149.6h3.0l-1.5 2.5zM370.1 149.9h3.0l-1.5 2.5zM371.3 151.8h3.0l-1.5 2.5zM372.5 150.9h3.0l-1.5 2.5zM373.7 151.4h3.0l-1.5 2.5zM374.9 151.9h3.0l-1.5 2.5z" fill="#2222d4"/>
<polyline points="204.0,158.5 209.8,155.5 214.7,152.6 220.6,152.6 227.5,160.5 231.4,154.6 234.4,154.6 236.0,159.9 237.2,161.6 238.3,162.8 239.5,165.9 240.6,169.1 241.8,170.9 242.9,171.4 244.1,175.1 245.2,176.9 246.4,177.3 247.5,177.1 248.7,176.5 249.8,174.1 251.0,173.7 252.1,171.4 253.3,171.5 254.4,171.8 255.6,171.3 256.7,172.3 257.9,173.3 259.0,174.3 260.2,173.6 261.3,175.3 262.4,176.8 263.6,177.9 264.7,181.6 265.9,181.8 267.0,181.7 268.2,180.3 269.3,181.8 270.5,180.1 271.6,181.1 272.8,181.0 273.9,181.7 275.1,185.4 276.2,185.5 277.4,185.0 278.5,186.6 279.7,185.3 280.8,184.3 282.0,183.2 283.1,185.3 284.3,185.4 285.4,186.2 286.6,186.9 287.7,189.4 288.9,188.0 290.0,190.0 291.2,190.3 292.3,190.5 293.5,189.1 294.6,191.9 295.8,191.6 296.9,193.2 298.1,194.2 299.2,191.6 300.4,190.9 301.5,192.1 302.7,191.3 303.8,192.1 305.0,194.9 308.4,196.9 313.0,196.6 318.1,196.6 322.8,191.5 326.6,191.5 329.4,193.8 333.1,195.6 337.8,196.0 341.6,195.6 344.4,194.7 345.0,198.0 346.2,198.5 347.5,200.1 348.8,197.5 350.0,200.0 351.2,202.2 352.5,203.1 353.8,205.1 355.0,204.9 356.2,205.9 357.5,206.5 358.8,205.5 360.0,204.1 361.2,202.8 362.5,202.0 363.8,199.8 365.0,198.6 366.2,199.2 367.5,198.6 368.8,198.2 370.0,195.5 371.2,196.7 372.5,193.7 373.8,194.8 375.0,200.4 375.9,207.8" stroke="#151515" stroke-width="0.6" fill="none"/>
<path d="M204.0 158.5h0.01M209.8 155.5h0.01M214.7 152.6h0.01M220.6 152.6h0.01M227.5 160.5h0.01M231.4 154.6h0.01M234.4 154.6h0.01M236.0 159.9h0.01M237.2 161.6h0.01M238.3 162.8h0.01M239.5 165.9h0.01M240.6 169.1h0.01M241.8 170.9h0.01M242.9 171.4h0.01M244.1 175.1h0.01M245.2 176.9h0.01M246.4 177.3h0.01M247.5 177.1h0.01M248.7 176.5h0.01M249.8 174.1h0.01M251.0 173.7h0.01M252.1 171.4h0.01M253.3 171.5h0.01M254.4 171.8h0.01M255.6 171.3h0.01M256.7 172.3h0.01M257.9 173.3h0.01M259.0 174.3h0.01M260.2 173.6h0.01M261.3 175.3h0.01M262.4 176.8h0.01M263.6 177.9h0.01M264.7 181.6h0.01M265.9 181.8h0.01M267.0 181.7h0.01M268.2 180.3h0.01M269.3 181.8h0.01M270.5 180.1h0.01M271.6 181.1h0.01M272.8 181.0h0.01M273.9 181.7h0.01M275.1 185.4h0.01M276.2 185.5h0.01M277.4 185.0h0.01M278.5 186.6h0.01M279.7 185.3h0.01M280.8 184.3h0.01M282.0 183.2h0.01M283.1 185.3h0.01M284.3 185.4h0.01M285.4 186.2h0.01M286.6 186.9h0.01M287.7 189.4h0.01M288.9 188.0h0.01M290.0 190.0h0.01M291.2 190.3h0.01M292.3 190.5h0.01M293.5 189.1h0.01M294.6 191.9h0.01M295.8 191.6h0.01M296.9 193.2h0.01M298.1 194.2h0.01M299.2 191.6h0.01M300.4 190.9h0.01M301.5 192.1h0.01M302.7 191.3h0.01M303.8 192.1h0.01M305.0 194.9h0.01M308.4 196.9h0.01M313.0 196.6h0.01M318.1 196.6h0.01M322.8 191.5h0.01M326.6 191.5h0.01M329.4 193.8h0.01M333.1 195.6h0.01M337.8 196.0h0.01M341.6 195.6h0.01M344.4 194.7h0.01M345.0 198.0h0.01M346.2 198.5h0.01M347.5 200.1h0.01M348.8 197.5h0.01M350.0 200.0h0.01M351.2 202.2h0.01M352.5 203.1h0.01M353.8 205.1h0.01M355.0 204.9h0.01M356.2 205.9h0.01M357.5 206.5h0.01M358.8 205.5h0.01M360.0 204.1h0.01M361.2 202.8h0.01M362.5 202.0h0.01M363.8 199.8h0.01M365.0 198.6h0.01M366.2 199.2h0.01M367.5 198.6h0.01M368.8 198.2h0.01M370.0 195.5h0.01M371.2 196.7h0.01M372.5 193.7h0.01M373.8 194.8h0.01M375.0 200.4h0.01M375.9 207.8h0.01" stroke="#151515" stroke-width="2.6" stroke-linecap="round" fill="none"/>
<rect x="202.3" y="133.2" width="174.89999999999998" height="94.4" fill="none" stroke="#808080" stroke-width="0.9"/>
<line x1="202.3" y1="227.6" x2="202.3" y2="225.6" stroke="#555" stroke-width="0.5"/>
<line x1="219.9" y1="227.6" x2="219.9" y2="226.4" stroke="#555" stroke-width="0.5"/>
<line x1="230.1" y1="227.6" x2="230.1" y2="226.4" stroke="#555" stroke-width="0.5"/>
<line x1="237.4" y1="227.6" x2="237.4" y2="226.4" stroke="#555" stroke-width="0.5"/>
<line x1="243.0" y1="227.6" x2="243.0" y2="226.4" stroke="#555" stroke-width="0.5"/>
<line x1="247.7" y1="227.6" x2="247.7" y2="226.4" stroke="#555" stroke-width="0.5"/>
<line x1="251.6" y1="227.6" x2="251.6" y2="226.4" stroke="#555" stroke-width="0.5"/>
<line x1="255.0" y1="227.6" x2="255.0" y2="226.4" stroke="#555" stroke-width="0.5"/>
<line x1="257.9" y1="227.6" x2="257.9" y2="226.4" stroke="#555" stroke-width="0.5"/>
<line x1="260.6" y1="227.6" x2="260.6" y2="225.6" stroke="#555" stroke-width="0.5"/>
<line x1="278.2" y1="227.6" x2="278.2" y2="226.4" stroke="#555" stroke-width="0.5"/>
<line x1="288.4" y1="227.6" x2="288.4" y2="226.4" stroke="#555" stroke-width="0.5"/>
<line x1="295.7" y1="227.6" x2="295.7" y2="226.4" stroke="#555" stroke-width="0.5"/>
<line x1="301.3" y1="227.6" x2="301.3" y2="226.4" stroke="#555" stroke-width="0.5"/>
<line x1="306.0" y1="227.6" x2="306.0" y2="226.4" stroke="#555" stroke-width="0.5"/>
<line x1="309.9" y1="227.6" x2="309.9" y2="226.4" stroke="#555" stroke-width="0.5"/>
<line x1="313.3" y1="227.6" x2="313.3" y2="226.4" stroke="#555" stroke-width="0.5"/>
<line x1="316.2" y1="227.6" x2="316.2" y2="226.4" stroke="#555" stroke-width="0.5"/>
<line x1="318.9" y1="227.6" x2="318.9" y2="225.6" stroke="#555" stroke-width="0.5"/>
<line x1="336.5" y1="227.6" x2="336.5" y2="226.4" stroke="#555" stroke-width="0.5"/>
<line x1="346.7" y1="227.6" x2="346.7" y2="226.4" stroke="#555" stroke-width="0.5"/>
<line x1="354.0" y1="227.6" x2="354.0" y2="226.4" stroke="#555" stroke-width="0.5"/>
<line x1="359.6" y1="227.6" x2="359.6" y2="226.4" stroke="#555" stroke-width="0.5"/>
<line x1="364.3" y1="227.6" x2="364.3" y2="226.4" stroke="#555" stroke-width="0.5"/>
<line x1="368.2" y1="227.6" x2="368.2" y2="226.4" stroke="#555" stroke-width="0.5"/>
<line x1="371.6" y1="227.6" x2="371.6" y2="226.4" stroke="#555" stroke-width="0.5"/>
<line x1="374.5" y1="227.6" x2="374.5" y2="226.4" stroke="#555" stroke-width="0.5"/>
<line x1="202.3" y1="138.8" x2="203.5" y2="138.8" stroke="#555" stroke-width="0.5"/>
<line x1="202.3" y1="149.2" x2="204.3" y2="149.2" stroke="#555" stroke-width="0.5"/>
<text x="200.9" y="151.7" font-family="Liberation Serif" font-size="7.5" text-anchor="end" fill="#222" stroke="#222" stroke-width="0.14">-130</text>
<line x1="202.3" y1="159.5" x2="203.5" y2="159.5" stroke="#555" stroke-width="0.5"/>
<line x1="202.3" y1="169.9" x2="204.3" y2="169.9" stroke="#555" stroke-width="0.5"/>
<text x="200.9" y="172.4" font-family="Liberation Serif" font-size="7.5" text-anchor="end" fill="#222" stroke="#222" stroke-width="0.14">-140</text>
<line x1="202.3" y1="180.2" x2="203.5" y2="180.2" stroke="#555" stroke-width="0.5"/>
<line x1="202.3" y1="190.6" x2="204.3" y2="190.6" stroke="#555" stroke-width="0.5"/>
<text x="200.9" y="193.1" font-family="Liberation Serif" font-size="7.5" text-anchor="end" fill="#222" stroke="#222" stroke-width="0.14">-150</text>
<line x1="202.3" y1="200.9" x2="203.5" y2="200.9" stroke="#555" stroke-width="0.5"/>
<line x1="202.3" y1="211.3" x2="204.3" y2="211.3" stroke="#555" stroke-width="0.5"/>
<text x="200.9" y="213.8" font-family="Liberation Serif" font-size="7.5" text-anchor="end" fill="#222" stroke="#222" stroke-width="0.14">-160</text>
<line x1="202.3" y1="221.6" x2="203.5" y2="221.6" stroke="#555" stroke-width="0.5"/>
<text x="198.8" y="236.8" font-family="Liberation Serif" font-size="6.6" fill="#222" stroke="#222" stroke-width="0.14">10<tspan font-size="3.8" dy="-3.3">7</tspan></text>
<text x="257.1" y="236.8" font-family="Liberation Serif" font-size="6.6" fill="#222" stroke="#222" stroke-width="0.14">10<tspan font-size="3.8" dy="-3.3">8</tspan></text>
<text x="315.4" y="236.8" font-family="Liberation Serif" font-size="6.6" fill="#222" stroke="#222" stroke-width="0.14">10<tspan font-size="3.8" dy="-3.3">9</tspan></text>
<text x="373.7" y="236.8" font-family="Liberation Serif" font-size="6.6" fill="#222" stroke="#222" stroke-width="0.14">10<tspan font-size="3.8" dy="-3.3">10</tspan></text>
<line x1="204" y1="195" x2="219" y2="195" stroke="#151515" stroke-width="0.7"/>
<circle cx="211.6" cy="195" r="1.35" fill="#151515"/>
<text x="221" y="198.2" font-family="Liberation Serif" font-size="7.2" fill="#111" textLength="70" lengthAdjust="spacingAndGlyphs" stroke="#111" stroke-width="0.14">whole spectrum w/o SOA</text>
<line x1="204" y1="203.5" x2="219" y2="203.5" stroke="#2222d4" stroke-width="0.7"/>
<path d="M210.0 202.4h3.2l-1.6 2.6z" fill="#2222d4"/>
<text x="221" y="206.7" font-family="Liberation Serif" font-size="7.2" fill="#111" textLength="56" lengthAdjust="spacingAndGlyphs" stroke="#111" stroke-width="0.14">1268.97 nm w/ SOA</text>
<line x1="204" y1="212" x2="219" y2="212" stroke="#22dcdc" stroke-width="0.7"/>
<circle cx="211.6" cy="212" r="1.35" fill="#22dcdc"/>
<text x="221" y="215.2" font-family="Liberation Serif" font-size="7.2" fill="#111" textLength="56.4" lengthAdjust="spacingAndGlyphs" stroke="#111" stroke-width="0.14">1270.07 nm w/ SOA</text>
<line x1="204" y1="220.5" x2="219" y2="220.5" stroke="#dc22dc" stroke-width="0.7"/>
<circle cx="211.6" cy="220.5" r="1.35" fill="#dc22dc"/>
<text x="221" y="223.7" font-family="Liberation Serif" font-size="7.2" fill="#111" textLength="51" lengthAdjust="spacingAndGlyphs" stroke="#111" stroke-width="0.14">1271 nm w/ SOA</text>
<text x="177.6" y="133.2" font-family="Liberation Sans" font-weight="bold" font-size="10.8" fill="#111">D</text>
<text x="290" y="246.8" font-family="Liberation Serif" font-size="10.6" text-anchor="middle" fill="#111" stroke="#111" stroke-width="0.22">Frequency (Hz)</text>
<text transform="translate(184.6,176.3) rotate(-90)" font-family="Liberation Serif" font-size="10.75" text-anchor="middle" fill="#111" stroke="#111" stroke-width="0.22">RIN (dB/Hz)</text>
</svg>
</body></html>
